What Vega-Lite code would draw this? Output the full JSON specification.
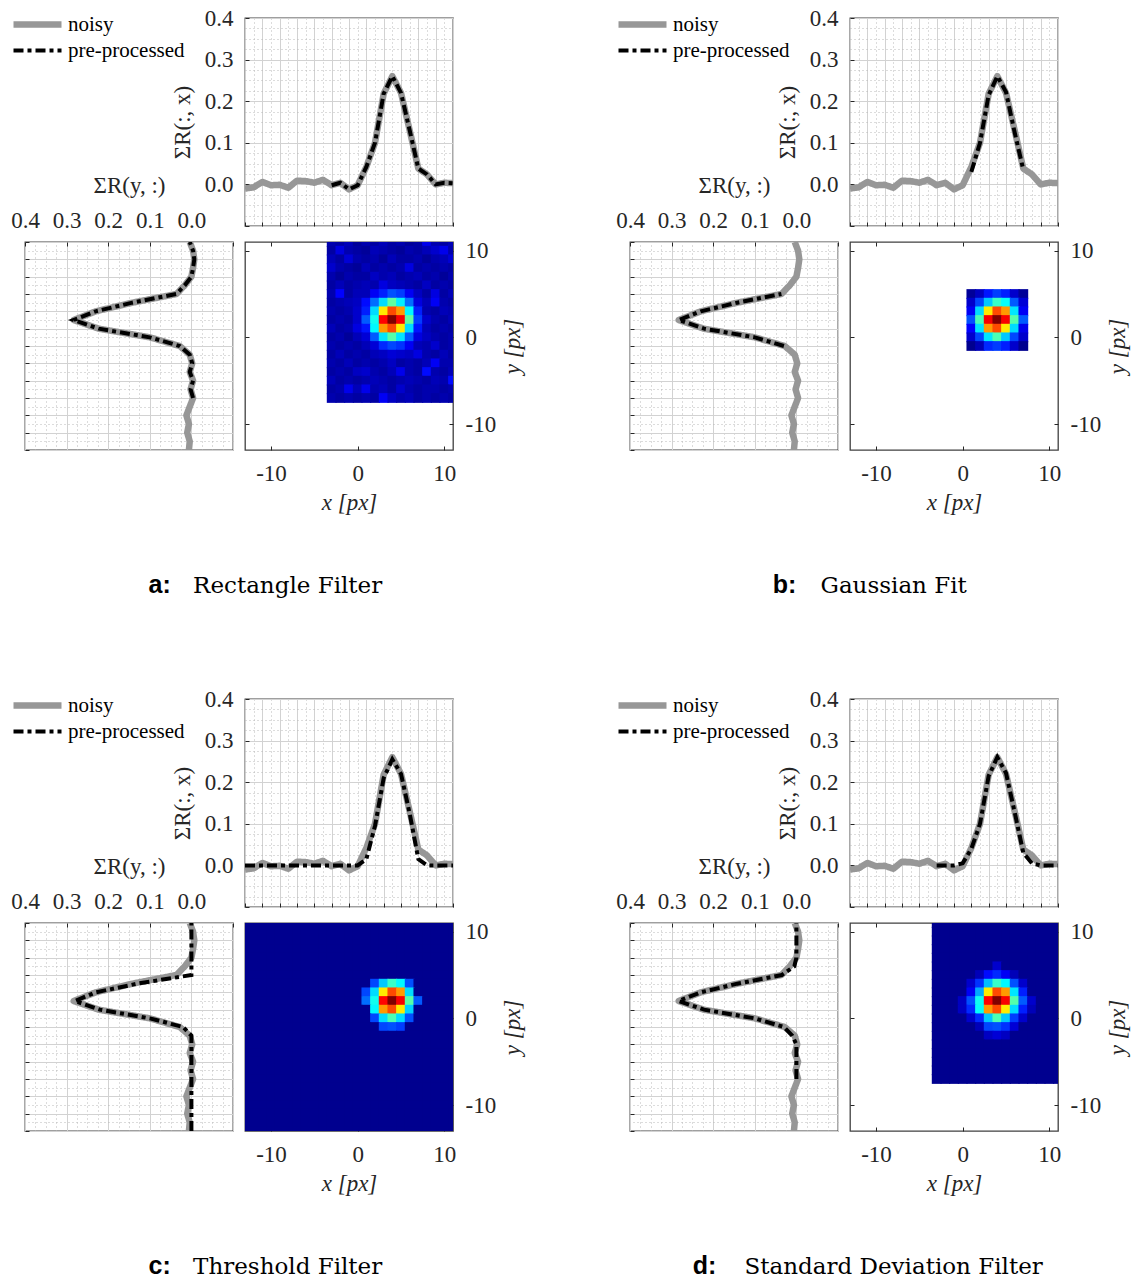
{
"$schema": "https://vega.github.io/schema/vega-lite/v6.json",
"background": "white",
"padding": {"left": 9, "top": 6, "right": 5, "bottom": 5},
"config": {
 "view": {"stroke": "#404040", "strokeWidth": 1.3},
 "axis": {"labelFont": "Liberation Serif", "labelFontSize": 23, "labelColor": "#262626", "titleFont": "Liberation Serif", "titleFontSize": 23, "titleFontWeight": "normal", "titleColor": "#262626", "domain": false, "tickColor": "#262626", "tickWidth": 1, "tickSize": -4, "labelFlush": false, "labelOverlap": false, "labelBound": false, "gridWidth": 1},
 "legend": {"orient": "none", "legendX": -230, "legendY": -4, "padding": 0, "labelFont": "Liberation Serif", "labelFontSize": 21, "labelColor": "#000000", "symbolSize": 576, "symbolOffset": 12, "labelOffset": 20, "rowPadding": 1}
},
"datasets": {
"L": [
{"k":"t","p":"n","s":"noisy","pos":-13,"val":-0.010},{"k":"t","p":"n","s":"noisy","pos":-12,"val":-0.007},{"k":"t","p":"n","s":"noisy","pos":-11,"val":0.006},{"k":"t","p":"n","s":"noisy","pos":-10,"val":-0.002},{"k":"t","p":"n","s":"noisy","pos":-9,"val":-0.001},{"k":"t","p":"n","s":"noisy","pos":-8,"val":-0.008},{"k":"t","p":"n","s":"noisy","pos":-7,"val":0.009},{"k":"t","p":"n","s":"noisy","pos":-6,"val":0.008},{"k":"t","p":"n","s":"noisy","pos":-5,"val":0.004},{"k":"t","p":"n","s":"noisy","pos":-4,"val":0.011},{"k":"t","p":"n","s":"noisy","pos":-3,"val":-0.002},{"k":"t","p":"n","s":"noisy","pos":-2,"val":0.004},{"k":"t","p":"n","s":"noisy","pos":-1,"val":-0.012},{"k":"t","p":"n","s":"noisy","pos":0,"val":-0.002},{"k":"t","p":"n","s":"noisy","pos":1,"val":0.042},{"k":"t","p":"n","s":"noisy","pos":2,"val":0.100},{"k":"t","p":"n","s":"noisy","pos":3,"val":0.218},{"k":"t","p":"n","s":"noisy","pos":4,"val":0.260},{"k":"t","p":"n","s":"noisy","pos":5,"val":0.220},{"k":"t","p":"n","s":"noisy","pos":6,"val":0.130},{"k":"t","p":"n","s":"noisy","pos":7,"val":0.038},{"k":"t","p":"n","s":"noisy","pos":8,"val":0.024},{"k":"t","p":"n","s":"noisy","pos":9,"val":0.000},{"k":"t","p":"n","s":"noisy","pos":10,"val":0.004},{"k":"t","p":"n","s":"noisy","pos":11,"val":0.003},
{"k":"t","p":"a","s":"pre-processed","pos":-3,"val":-0.002},{"k":"t","p":"a","s":"pre-processed","pos":-2,"val":0.004},{"k":"t","p":"a","s":"pre-processed","pos":-1,"val":-0.012},{"k":"t","p":"a","s":"pre-processed","pos":0,"val":-0.002},{"k":"t","p":"a","s":"pre-processed","pos":1,"val":0.042},{"k":"t","p":"a","s":"pre-processed","pos":2,"val":0.100},{"k":"t","p":"a","s":"pre-processed","pos":3,"val":0.218},{"k":"t","p":"a","s":"pre-processed","pos":4,"val":0.260},{"k":"t","p":"a","s":"pre-processed","pos":5,"val":0.220},{"k":"t","p":"a","s":"pre-processed","pos":6,"val":0.130},{"k":"t","p":"a","s":"pre-processed","pos":7,"val":0.038},{"k":"t","p":"a","s":"pre-processed","pos":8,"val":0.024},{"k":"t","p":"a","s":"pre-processed","pos":9,"val":0.000},{"k":"t","p":"a","s":"pre-processed","pos":10,"val":0.004},{"k":"t","p":"a","s":"pre-processed","pos":11,"val":0.003},
{"k":"t","p":"b","s":"pre-processed","pos":1,"val":0.030},{"k":"t","p":"b","s":"pre-processed","pos":2,"val":0.100},{"k":"t","p":"b","s":"pre-processed","pos":3,"val":0.215},{"k":"t","p":"b","s":"pre-processed","pos":4,"val":0.260},{"k":"t","p":"b","s":"pre-processed","pos":5,"val":0.222},{"k":"t","p":"b","s":"pre-processed","pos":6,"val":0.125},{"k":"t","p":"b","s":"pre-processed","pos":7,"val":0.035},
{"k":"t","p":"c","s":"pre-processed","pos":-13,"val":0},{"k":"t","p":"c","s":"pre-processed","pos":-12,"val":0},{"k":"t","p":"c","s":"pre-processed","pos":-11,"val":0},{"k":"t","p":"c","s":"pre-processed","pos":-10,"val":0},{"k":"t","p":"c","s":"pre-processed","pos":-9,"val":0},{"k":"t","p":"c","s":"pre-processed","pos":-8,"val":0},{"k":"t","p":"c","s":"pre-processed","pos":-7,"val":0},{"k":"t","p":"c","s":"pre-processed","pos":-6,"val":0},{"k":"t","p":"c","s":"pre-processed","pos":-5,"val":0},{"k":"t","p":"c","s":"pre-processed","pos":-4,"val":0},{"k":"t","p":"c","s":"pre-processed","pos":-3,"val":0},{"k":"t","p":"c","s":"pre-processed","pos":-2,"val":0},{"k":"t","p":"c","s":"pre-processed","pos":-1,"val":0},{"k":"t","p":"c","s":"pre-processed","pos":0,"val":0},{"k":"t","p":"c","s":"pre-processed","pos":1,"val":0.015},{"k":"t","p":"c","s":"pre-processed","pos":2,"val":0.095},{"k":"t","p":"c","s":"pre-processed","pos":3,"val":0.210},{"k":"t","p":"c","s":"pre-processed","pos":4,"val":0.255},{"k":"t","p":"c","s":"pre-processed","pos":5,"val":0.220},{"k":"t","p":"c","s":"pre-processed","pos":6,"val":0.125},{"k":"t","p":"c","s":"pre-processed","pos":7,"val":0.015},{"k":"t","p":"c","s":"pre-processed","pos":8,"val":0},{"k":"t","p":"c","s":"pre-processed","pos":9,"val":0},{"k":"t","p":"c","s":"pre-processed","pos":10,"val":0},{"k":"t","p":"c","s":"pre-processed","pos":11,"val":0},
{"k":"t","p":"d","s":"pre-processed","pos":-3,"val":0},{"k":"t","p":"d","s":"pre-processed","pos":-2,"val":0},{"k":"t","p":"d","s":"pre-processed","pos":-1,"val":0},{"k":"t","p":"d","s":"pre-processed","pos":0,"val":0.005},{"k":"t","p":"d","s":"pre-processed","pos":1,"val":0.040},{"k":"t","p":"d","s":"pre-processed","pos":2,"val":0.100},{"k":"t","p":"d","s":"pre-processed","pos":3,"val":0.215},{"k":"t","p":"d","s":"pre-processed","pos":4,"val":0.260},{"k":"t","p":"d","s":"pre-processed","pos":5,"val":0.222},{"k":"t","p":"d","s":"pre-processed","pos":6,"val":0.128},{"k":"t","p":"d","s":"pre-processed","pos":7,"val":0.030},{"k":"t","p":"d","s":"pre-processed","pos":8,"val":0.005},{"k":"t","p":"d","s":"pre-processed","pos":9,"val":0},{"k":"t","p":"d","s":"pre-processed","pos":10,"val":0},{"k":"t","p":"d","s":"pre-processed","pos":11,"val":0},
{"k":"l","p":"n","s":"noisy","pos":-13,"val":0.006},{"k":"l","p":"n","s":"noisy","pos":-12,"val":0.004},{"k":"l","p":"n","s":"noisy","pos":-11,"val":0.010},{"k":"l","p":"n","s":"noisy","pos":-10,"val":0.006},{"k":"l","p":"n","s":"noisy","pos":-9,"val":0.012},{"k":"l","p":"n","s":"noisy","pos":-8,"val":0.004},{"k":"l","p":"n","s":"noisy","pos":-7,"val":-0.004},{"k":"l","p":"n","s":"noisy","pos":-6,"val":0.002},{"k":"l","p":"n","s":"noisy","pos":-5,"val":-0.004},{"k":"l","p":"n","s":"noisy","pos":-4,"val":0.004},{"k":"l","p":"n","s":"noisy","pos":-3,"val":-0.002},{"k":"l","p":"n","s":"noisy","pos":-2,"val":0.004},{"k":"l","p":"n","s":"noisy","pos":-1,"val":0.028},{"k":"l","p":"n","s":"noisy","pos":0,"val":0.100},{"k":"l","p":"n","s":"noisy","pos":1,"val":0.223},{"k":"l","p":"n","s":"noisy","pos":2,"val":0.283},{"k":"l","p":"n","s":"noisy","pos":3,"val":0.230},{"k":"l","p":"n","s":"noisy","pos":4,"val":0.142},{"k":"l","p":"n","s":"noisy","pos":5,"val":0.036},{"k":"l","p":"n","s":"noisy","pos":6,"val":0.016},{"k":"l","p":"n","s":"noisy","pos":7,"val":0.000},{"k":"l","p":"n","s":"noisy","pos":8,"val":-0.004},{"k":"l","p":"n","s":"noisy","pos":9,"val":-0.007},{"k":"l","p":"n","s":"noisy","pos":10,"val":-0.004},{"k":"l","p":"n","s":"noisy","pos":11,"val":0.004},
{"k":"l","p":"a","s":"pre-processed","pos":-7,"val":-0.004},{"k":"l","p":"a","s":"pre-processed","pos":-6,"val":0.002},{"k":"l","p":"a","s":"pre-processed","pos":-5,"val":-0.004},{"k":"l","p":"a","s":"pre-processed","pos":-4,"val":0.004},{"k":"l","p":"a","s":"pre-processed","pos":-3,"val":-0.002},{"k":"l","p":"a","s":"pre-processed","pos":-2,"val":0.004},{"k":"l","p":"a","s":"pre-processed","pos":-1,"val":0.028},{"k":"l","p":"a","s":"pre-processed","pos":0,"val":0.100},{"k":"l","p":"a","s":"pre-processed","pos":1,"val":0.223},{"k":"l","p":"a","s":"pre-processed","pos":2,"val":0.283},{"k":"l","p":"a","s":"pre-processed","pos":3,"val":0.230},{"k":"l","p":"a","s":"pre-processed","pos":4,"val":0.142},{"k":"l","p":"a","s":"pre-processed","pos":5,"val":0.036},{"k":"l","p":"a","s":"pre-processed","pos":6,"val":0.016},{"k":"l","p":"a","s":"pre-processed","pos":7,"val":0.000},{"k":"l","p":"a","s":"pre-processed","pos":8,"val":-0.004},{"k":"l","p":"a","s":"pre-processed","pos":9,"val":-0.007},{"k":"l","p":"a","s":"pre-processed","pos":10,"val":-0.004},{"k":"l","p":"a","s":"pre-processed","pos":11,"val":0.004},
{"k":"l","p":"b","s":"pre-processed","pos":-1,"val":0.030},{"k":"l","p":"b","s":"pre-processed","pos":0,"val":0.100},{"k":"l","p":"b","s":"pre-processed","pos":1,"val":0.222},{"k":"l","p":"b","s":"pre-processed","pos":2,"val":0.283},{"k":"l","p":"b","s":"pre-processed","pos":3,"val":0.230},{"k":"l","p":"b","s":"pre-processed","pos":4,"val":0.142},{"k":"l","p":"b","s":"pre-processed","pos":5,"val":0.036},
{"k":"l","p":"c","s":"pre-processed","pos":-13,"val":0},{"k":"l","p":"c","s":"pre-processed","pos":-12,"val":0},{"k":"l","p":"c","s":"pre-processed","pos":-11,"val":0},{"k":"l","p":"c","s":"pre-processed","pos":-10,"val":0},{"k":"l","p":"c","s":"pre-processed","pos":-9,"val":0},{"k":"l","p":"c","s":"pre-processed","pos":-8,"val":0},{"k":"l","p":"c","s":"pre-processed","pos":-7,"val":0},{"k":"l","p":"c","s":"pre-processed","pos":-6,"val":0},{"k":"l","p":"c","s":"pre-processed","pos":-5,"val":0},{"k":"l","p":"c","s":"pre-processed","pos":-4,"val":0},{"k":"l","p":"c","s":"pre-processed","pos":-3,"val":0},{"k":"l","p":"c","s":"pre-processed","pos":-2,"val":0},{"k":"l","p":"c","s":"pre-processed","pos":-1,"val":0.020},{"k":"l","p":"c","s":"pre-processed","pos":0,"val":0.100},{"k":"l","p":"c","s":"pre-processed","pos":1,"val":0.220},{"k":"l","p":"c","s":"pre-processed","pos":2,"val":0.280},{"k":"l","p":"c","s":"pre-processed","pos":3,"val":0.230},{"k":"l","p":"c","s":"pre-processed","pos":4,"val":0.130},{"k":"l","p":"c","s":"pre-processed","pos":5,"val":0},{"k":"l","p":"c","s":"pre-processed","pos":6,"val":0},{"k":"l","p":"c","s":"pre-processed","pos":7,"val":0},{"k":"l","p":"c","s":"pre-processed","pos":8,"val":0},{"k":"l","p":"c","s":"pre-processed","pos":9,"val":0},{"k":"l","p":"c","s":"pre-processed","pos":10,"val":0},{"k":"l","p":"c","s":"pre-processed","pos":11,"val":0},
{"k":"l","p":"d","s":"pre-processed","pos":-7,"val":0},{"k":"l","p":"d","s":"pre-processed","pos":-6,"val":0},{"k":"l","p":"d","s":"pre-processed","pos":-5,"val":0},{"k":"l","p":"d","s":"pre-processed","pos":-4,"val":0},{"k":"l","p":"d","s":"pre-processed","pos":-3,"val":0},{"k":"l","p":"d","s":"pre-processed","pos":-2,"val":0.010},{"k":"l","p":"d","s":"pre-processed","pos":-1,"val":0.030},{"k":"l","p":"d","s":"pre-processed","pos":0,"val":0.100},{"k":"l","p":"d","s":"pre-processed","pos":1,"val":0.222},{"k":"l","p":"d","s":"pre-processed","pos":2,"val":0.283},{"k":"l","p":"d","s":"pre-processed","pos":3,"val":0.230},{"k":"l","p":"d","s":"pre-processed","pos":4,"val":0.142},{"k":"l","p":"d","s":"pre-processed","pos":5,"val":0.035},{"k":"l","p":"d","s":"pre-processed","pos":6,"val":0.005},{"k":"l","p":"d","s":"pre-processed","pos":7,"val":0},{"k":"l","p":"d","s":"pre-processed","pos":8,"val":0},{"k":"l","p":"d","s":"pre-processed","pos":9,"val":0},{"k":"l","p":"d","s":"pre-processed","pos":10,"val":0},{"k":"l","p":"d","s":"pre-processed","pos":11,"val":0}
],
"ha": [
{"x":-3,"y":11,"v":3},{"x":-2,"y":11,"v":2},{"x":-1,"y":11,"v":4},{"x":0,"y":11,"v":1},{"x":1,"y":11,"v":3},{"x":2,"y":11,"v":2},{"x":3,"y":11,"v":4},{"x":4,"y":11,"v":2},{"x":5,"y":11,"v":3},{"x":6,"y":11,"v":1},{"x":7,"y":11,"v":2},{"x":8,"y":11,"v":9},{"x":9,"y":11,"v":3},{"x":10,"y":11,"v":2},{"x":11,"y":11,"v":4},
{"x":-3,"y":10,"v":2},{"x":-2,"y":10,"v":8},{"x":-1,"y":10,"v":3},{"x":0,"y":10,"v":2},{"x":1,"y":10,"v":1},{"x":2,"y":10,"v":4},{"x":3,"y":10,"v":3},{"x":4,"y":10,"v":2},{"x":5,"y":10,"v":1},{"x":6,"y":10,"v":3},{"x":7,"y":10,"v":2},{"x":8,"y":10,"v":4},{"x":9,"y":10,"v":6},{"x":10,"y":10,"v":9},{"x":11,"y":10,"v":3},
{"x":-3,"y":9,"v":4},{"x":-2,"y":9,"v":2},{"x":-1,"y":9,"v":7},{"x":0,"y":9,"v":3},{"x":1,"y":9,"v":2},{"x":2,"y":9,"v":3},{"x":3,"y":9,"v":1},{"x":4,"y":9,"v":4},{"x":5,"y":9,"v":2},{"x":6,"y":9,"v":2},{"x":7,"y":9,"v":3},{"x":8,"y":9,"v":1},{"x":9,"y":9,"v":3},{"x":10,"y":9,"v":4},{"x":11,"y":9,"v":7},
{"x":-3,"y":8,"v":6},{"x":-2,"y":8,"v":3},{"x":-1,"y":8,"v":2},{"x":0,"y":8,"v":1},{"x":1,"y":8,"v":4},{"x":2,"y":8,"v":2},{"x":3,"y":8,"v":3},{"x":4,"y":8,"v":2},{"x":5,"y":8,"v":3},{"x":6,"y":8,"v":8},{"x":7,"y":8,"v":2},{"x":8,"y":8,"v":3},{"x":9,"y":8,"v":2},{"x":10,"y":8,"v":3},{"x":11,"y":8,"v":2},
{"x":-3,"y":7,"v":3},{"x":-2,"y":7,"v":1},{"x":-1,"y":7,"v":3},{"x":0,"y":7,"v":2},{"x":1,"y":7,"v":2},{"x":2,"y":7,"v":5},{"x":3,"y":7,"v":3},{"x":4,"y":7,"v":4},{"x":5,"y":7,"v":2},{"x":6,"y":7,"v":3},{"x":7,"y":7,"v":4},{"x":8,"y":7,"v":2},{"x":9,"y":7,"v":3},{"x":10,"y":7,"v":1},{"x":11,"y":7,"v":3},
{"x":-3,"y":6,"v":2},{"x":-2,"y":6,"v":4},{"x":-1,"y":6,"v":2},{"x":0,"y":6,"v":3},{"x":1,"y":6,"v":4},{"x":2,"y":6,"v":3},{"x":3,"y":6,"v":8},{"x":4,"y":6,"v":5},{"x":5,"y":6,"v":4},{"x":6,"y":6,"v":3},{"x":7,"y":6,"v":2},{"x":8,"y":6,"v":5},{"x":9,"y":6,"v":2},{"x":10,"y":6,"v":3},{"x":11,"y":6,"v":2},
{"x":-3,"y":5,"v":3},{"x":-2,"y":5,"v":11},{"x":-1,"y":5,"v":2},{"x":0,"y":5,"v":4},{"x":1,"y":5,"v":4},{"x":2,"y":5,"v":10},{"x":3,"y":5,"v":14},{"x":4,"y":5,"v":19},{"x":5,"y":5,"v":17},{"x":6,"y":5,"v":10},{"x":7,"y":5,"v":5},{"x":8,"y":5,"v":2},{"x":9,"y":5,"v":8},{"x":10,"y":5,"v":2},{"x":11,"y":5,"v":4},
{"x":-3,"y":4,"v":2},{"x":-2,"y":4,"v":3},{"x":-1,"y":4,"v":4},{"x":0,"y":4,"v":5},{"x":1,"y":4,"v":12},{"x":2,"y":4,"v":22},{"x":3,"y":4,"v":33},{"x":4,"y":4,"v":46},{"x":5,"y":4,"v":35},{"x":6,"y":4,"v":22},{"x":7,"y":4,"v":8},{"x":8,"y":4,"v":4},{"x":9,"y":4,"v":10},{"x":10,"y":4,"v":3},{"x":11,"y":4,"v":2},
{"x":-3,"y":3,"v":3},{"x":-2,"y":3,"v":2},{"x":-1,"y":3,"v":3},{"x":0,"y":3,"v":6},{"x":1,"y":3,"v":14},{"x":2,"y":3,"v":33},{"x":3,"y":3,"v":64},{"x":4,"y":3,"v":80},{"x":5,"y":3,"v":72},{"x":6,"y":3,"v":36},{"x":7,"y":3,"v":14},{"x":8,"y":3,"v":3},{"x":9,"y":3,"v":2},{"x":10,"y":3,"v":4},{"x":11,"y":3,"v":3},
{"x":-3,"y":2,"v":2},{"x":-2,"y":2,"v":3},{"x":-1,"y":2,"v":2},{"x":0,"y":2,"v":6},{"x":1,"y":2,"v":20},{"x":2,"y":2,"v":38},{"x":3,"y":2,"v":87},{"x":4,"y":2,"v":100},{"x":5,"y":2,"v":88},{"x":6,"y":2,"v":46},{"x":7,"y":2,"v":17},{"x":8,"y":2,"v":6},{"x":9,"y":2,"v":3},{"x":10,"y":2,"v":2},{"x":11,"y":2,"v":4},
{"x":-3,"y":1,"v":4},{"x":-2,"y":1,"v":2},{"x":-1,"y":1,"v":3},{"x":0,"y":1,"v":8},{"x":1,"y":1,"v":13},{"x":2,"y":1,"v":36},{"x":3,"y":1,"v":72},{"x":4,"y":1,"v":80},{"x":5,"y":1,"v":64},{"x":6,"y":1,"v":33},{"x":7,"y":1,"v":13},{"x":8,"y":1,"v":4},{"x":9,"y":1,"v":2},{"x":10,"y":1,"v":3},{"x":11,"y":1,"v":2},
{"x":-3,"y":0,"v":2},{"x":-2,"y":0,"v":3},{"x":-1,"y":0,"v":1},{"x":0,"y":0,"v":4},{"x":1,"y":0,"v":7},{"x":2,"y":0,"v":20},{"x":3,"y":0,"v":34},{"x":4,"y":0,"v":45},{"x":5,"y":0,"v":34},{"x":6,"y":0,"v":20},{"x":7,"y":0,"v":8},{"x":8,"y":0,"v":5},{"x":9,"y":0,"v":3},{"x":10,"y":0,"v":2},{"x":11,"y":0,"v":3},
{"x":-3,"y":-1,"v":3},{"x":-2,"y":-1,"v":2},{"x":-1,"y":-1,"v":3},{"x":0,"y":-1,"v":2},{"x":1,"y":-1,"v":4},{"x":2,"y":-1,"v":7},{"x":3,"y":-1,"v":15},{"x":4,"y":-1,"v":18},{"x":5,"y":-1,"v":16},{"x":6,"y":-1,"v":10},{"x":7,"y":-1,"v":4},{"x":8,"y":-1,"v":3},{"x":9,"y":-1,"v":6},{"x":10,"y":-1,"v":2},{"x":11,"y":-1,"v":3},
{"x":-3,"y":-2,"v":2},{"x":-2,"y":-2,"v":4},{"x":-1,"y":-2,"v":2},{"x":0,"y":-2,"v":3},{"x":1,"y":-2,"v":2},{"x":2,"y":-2,"v":4},{"x":3,"y":-2,"v":5},{"x":4,"y":-2,"v":7},{"x":5,"y":-2,"v":6},{"x":6,"y":-2,"v":5},{"x":7,"y":-2,"v":8},{"x":8,"y":-2,"v":3},{"x":9,"y":-2,"v":2},{"x":10,"y":-2,"v":4},{"x":11,"y":-2,"v":2},
{"x":-3,"y":-3,"v":3},{"x":-2,"y":-3,"v":2},{"x":-1,"y":-3,"v":4},{"x":0,"y":-3,"v":2},{"x":1,"y":-3,"v":3},{"x":2,"y":-3,"v":2},{"x":3,"y":-3,"v":3},{"x":4,"y":-3,"v":5},{"x":5,"y":-3,"v":2},{"x":6,"y":-3,"v":3},{"x":7,"y":-3,"v":2},{"x":8,"y":-3,"v":4},{"x":9,"y":-3,"v":10},{"x":10,"y":-3,"v":3},{"x":11,"y":-3,"v":3},
{"x":-3,"y":-4,"v":2},{"x":-2,"y":-4,"v":3},{"x":-1,"y":-4,"v":2},{"x":0,"y":-4,"v":5},{"x":1,"y":-4,"v":6},{"x":2,"y":-4,"v":3},{"x":3,"y":-4,"v":2},{"x":4,"y":-4,"v":4},{"x":5,"y":-4,"v":9},{"x":6,"y":-4,"v":3},{"x":7,"y":-4,"v":2},{"x":8,"y":-4,"v":12},{"x":9,"y":-4,"v":3},{"x":10,"y":-4,"v":2},{"x":11,"y":-4,"v":4},
{"x":-3,"y":-5,"v":4},{"x":-2,"y":-5,"v":2},{"x":-1,"y":-5,"v":3},{"x":0,"y":-5,"v":2},{"x":1,"y":-5,"v":3},{"x":2,"y":-5,"v":4},{"x":3,"y":-5,"v":3},{"x":4,"y":-5,"v":2},{"x":5,"y":-5,"v":3},{"x":6,"y":-5,"v":4},{"x":7,"y":-5,"v":3},{"x":8,"y":-5,"v":2},{"x":9,"y":-5,"v":4},{"x":10,"y":-5,"v":3},{"x":11,"y":-5,"v":12},
{"x":-3,"y":-6,"v":2},{"x":-2,"y":-6,"v":3},{"x":-1,"y":-6,"v":9},{"x":0,"y":-6,"v":4},{"x":1,"y":-6,"v":9},{"x":2,"y":-6,"v":3},{"x":3,"y":-6,"v":4},{"x":4,"y":-6,"v":2},{"x":5,"y":-6,"v":6},{"x":6,"y":-6,"v":3},{"x":7,"y":-6,"v":2},{"x":8,"y":-6,"v":3},{"x":9,"y":-6,"v":3},{"x":10,"y":-6,"v":2},{"x":11,"y":-6,"v":3},
{"x":-3,"y":-7,"v":3},{"x":-2,"y":-7,"v":2},{"x":-1,"y":-7,"v":3},{"x":0,"y":-7,"v":2},{"x":1,"y":-7,"v":3},{"x":2,"y":-7,"v":2},{"x":3,"y":-7,"v":10},{"x":4,"y":-7,"v":5},{"x":5,"y":-7,"v":3},{"x":6,"y":-7,"v":4},{"x":7,"y":-7,"v":2},{"x":8,"y":-7,"v":3},{"x":9,"y":-7,"v":2},{"x":10,"y":-7,"v":3},{"x":11,"y":-7,"v":2}
],
"hb": [
{"x":1,"y":5,"v":1},{"x":2,"y":5,"v":5},{"x":3,"y":5,"v":13},{"x":4,"y":5,"v":17},{"x":5,"y":5,"v":14},{"x":6,"y":5,"v":6},{"x":7,"y":5,"v":1},
{"x":1,"y":4,"v":6},{"x":2,"y":4,"v":18},{"x":3,"y":4,"v":31},{"x":4,"y":4,"v":42},{"x":5,"y":4,"v":37},{"x":6,"y":4,"v":20},{"x":7,"y":4,"v":7},
{"x":1,"y":3,"v":10},{"x":2,"y":3,"v":33},{"x":3,"y":3,"v":64},{"x":4,"y":3,"v":80},{"x":5,"y":3,"v":72},{"x":6,"y":3,"v":34},{"x":7,"y":3,"v":10},
{"x":1,"y":2,"v":19},{"x":2,"y":2,"v":44},{"x":3,"y":2,"v":88},{"x":4,"y":2,"v":100},{"x":5,"y":2,"v":88},{"x":6,"y":2,"v":45},{"x":7,"y":2,"v":20},
{"x":1,"y":1,"v":11},{"x":2,"y":1,"v":34},{"x":3,"y":1,"v":72},{"x":4,"y":1,"v":80},{"x":5,"y":1,"v":64},{"x":6,"y":1,"v":33},{"x":7,"y":1,"v":9},
{"x":1,"y":0,"v":6},{"x":2,"y":0,"v":18},{"x":3,"y":0,"v":34},{"x":4,"y":0,"v":44},{"x":5,"y":0,"v":31},{"x":6,"y":0,"v":18},{"x":7,"y":0,"v":6},
{"x":1,"y":-1,"v":0},{"x":2,"y":-1,"v":4},{"x":3,"y":-1,"v":15},{"x":4,"y":-1,"v":17},{"x":5,"y":-1,"v":14},{"x":6,"y":-1,"v":6},{"x":7,"y":-1,"v":0}
],
"hc": [
{"x":-13,"y":11,"v":0},{"x":-12,"y":11,"v":0},{"x":-11,"y":11,"v":0},{"x":-10,"y":11,"v":0},{"x":-9,"y":11,"v":0},{"x":-8,"y":11,"v":0},{"x":-7,"y":11,"v":0},{"x":-6,"y":11,"v":0},{"x":-5,"y":11,"v":0},{"x":-4,"y":11,"v":0},{"x":-3,"y":11,"v":0},{"x":-2,"y":11,"v":0},{"x":-1,"y":11,"v":0},{"x":0,"y":11,"v":0},{"x":1,"y":11,"v":0},{"x":2,"y":11,"v":0},{"x":3,"y":11,"v":0},{"x":4,"y":11,"v":0},{"x":5,"y":11,"v":0},{"x":6,"y":11,"v":0},{"x":7,"y":11,"v":0},{"x":8,"y":11,"v":0},{"x":9,"y":11,"v":0},{"x":10,"y":11,"v":0},{"x":11,"y":11,"v":0},
{"x":-13,"y":10,"v":0},{"x":-12,"y":10,"v":0},{"x":-11,"y":10,"v":0},{"x":-10,"y":10,"v":0},{"x":-9,"y":10,"v":0},{"x":-8,"y":10,"v":0},{"x":-7,"y":10,"v":0},{"x":-6,"y":10,"v":0},{"x":-5,"y":10,"v":0},{"x":-4,"y":10,"v":0},{"x":-3,"y":10,"v":0},{"x":-2,"y":10,"v":0},{"x":-1,"y":10,"v":0},{"x":0,"y":10,"v":0},{"x":1,"y":10,"v":0},{"x":2,"y":10,"v":0},{"x":3,"y":10,"v":0},{"x":4,"y":10,"v":0},{"x":5,"y":10,"v":0},{"x":6,"y":10,"v":0},{"x":7,"y":10,"v":0},{"x":8,"y":10,"v":0},{"x":9,"y":10,"v":0},{"x":10,"y":10,"v":0},{"x":11,"y":10,"v":0},
{"x":-13,"y":9,"v":0},{"x":-12,"y":9,"v":0},{"x":-11,"y":9,"v":0},{"x":-10,"y":9,"v":0},{"x":-9,"y":9,"v":0},{"x":-8,"y":9,"v":0},{"x":-7,"y":9,"v":0},{"x":-6,"y":9,"v":0},{"x":-5,"y":9,"v":0},{"x":-4,"y":9,"v":0},{"x":-3,"y":9,"v":0},{"x":-2,"y":9,"v":0},{"x":-1,"y":9,"v":0},{"x":0,"y":9,"v":0},{"x":1,"y":9,"v":0},{"x":2,"y":9,"v":0},{"x":3,"y":9,"v":0},{"x":4,"y":9,"v":0},{"x":5,"y":9,"v":0},{"x":6,"y":9,"v":0},{"x":7,"y":9,"v":0},{"x":8,"y":9,"v":0},{"x":9,"y":9,"v":0},{"x":10,"y":9,"v":0},{"x":11,"y":9,"v":0},
{"x":-13,"y":8,"v":0},{"x":-12,"y":8,"v":0},{"x":-11,"y":8,"v":0},{"x":-10,"y":8,"v":0},{"x":-9,"y":8,"v":0},{"x":-8,"y":8,"v":0},{"x":-7,"y":8,"v":0},{"x":-6,"y":8,"v":0},{"x":-5,"y":8,"v":0},{"x":-4,"y":8,"v":0},{"x":-3,"y":8,"v":0},{"x":-2,"y":8,"v":0},{"x":-1,"y":8,"v":0},{"x":0,"y":8,"v":0},{"x":1,"y":8,"v":0},{"x":2,"y":8,"v":0},{"x":3,"y":8,"v":0},{"x":4,"y":8,"v":0},{"x":5,"y":8,"v":0},{"x":6,"y":8,"v":0},{"x":7,"y":8,"v":0},{"x":8,"y":8,"v":0},{"x":9,"y":8,"v":0},{"x":10,"y":8,"v":0},{"x":11,"y":8,"v":0},
{"x":-13,"y":7,"v":0},{"x":-12,"y":7,"v":0},{"x":-11,"y":7,"v":0},{"x":-10,"y":7,"v":0},{"x":-9,"y":7,"v":0},{"x":-8,"y":7,"v":0},{"x":-7,"y":7,"v":0},{"x":-6,"y":7,"v":0},{"x":-5,"y":7,"v":0},{"x":-4,"y":7,"v":0},{"x":-3,"y":7,"v":0},{"x":-2,"y":7,"v":0},{"x":-1,"y":7,"v":0},{"x":0,"y":7,"v":0},{"x":1,"y":7,"v":0},{"x":2,"y":7,"v":0},{"x":3,"y":7,"v":0},{"x":4,"y":7,"v":0},{"x":5,"y":7,"v":0},{"x":6,"y":7,"v":0},{"x":7,"y":7,"v":0},{"x":8,"y":7,"v":0},{"x":9,"y":7,"v":0},{"x":10,"y":7,"v":0},{"x":11,"y":7,"v":0},
{"x":-13,"y":6,"v":0},{"x":-12,"y":6,"v":0},{"x":-11,"y":6,"v":0},{"x":-10,"y":6,"v":0},{"x":-9,"y":6,"v":0},{"x":-8,"y":6,"v":0},{"x":-7,"y":6,"v":0},{"x":-6,"y":6,"v":0},{"x":-5,"y":6,"v":0},{"x":-4,"y":6,"v":0},{"x":-3,"y":6,"v":0},{"x":-2,"y":6,"v":0},{"x":-1,"y":6,"v":0},{"x":0,"y":6,"v":0},{"x":1,"y":6,"v":0},{"x":2,"y":6,"v":0},{"x":3,"y":6,"v":0},{"x":4,"y":6,"v":0},{"x":5,"y":6,"v":0},{"x":6,"y":6,"v":0},{"x":7,"y":6,"v":0},{"x":8,"y":6,"v":0},{"x":9,"y":6,"v":0},{"x":10,"y":6,"v":0},{"x":11,"y":6,"v":0},
{"x":-13,"y":5,"v":0},{"x":-12,"y":5,"v":0},{"x":-11,"y":5,"v":0},{"x":-10,"y":5,"v":0},{"x":-9,"y":5,"v":0},{"x":-8,"y":5,"v":0},{"x":-7,"y":5,"v":0},{"x":-6,"y":5,"v":0},{"x":-5,"y":5,"v":0},{"x":-4,"y":5,"v":0},{"x":-3,"y":5,"v":0},{"x":-2,"y":5,"v":0},{"x":-1,"y":5,"v":0},{"x":0,"y":5,"v":0},{"x":1,"y":5,"v":0},{"x":2,"y":5,"v":0},{"x":3,"y":5,"v":0},{"x":4,"y":5,"v":0},{"x":5,"y":5,"v":0},{"x":6,"y":5,"v":0},{"x":7,"y":5,"v":0},{"x":8,"y":5,"v":0},{"x":9,"y":5,"v":0},{"x":10,"y":5,"v":0},{"x":11,"y":5,"v":0},
{"x":-13,"y":4,"v":0},{"x":-12,"y":4,"v":0},{"x":-11,"y":4,"v":0},{"x":-10,"y":4,"v":0},{"x":-9,"y":4,"v":0},{"x":-8,"y":4,"v":0},{"x":-7,"y":4,"v":0},{"x":-6,"y":4,"v":0},{"x":-5,"y":4,"v":0},{"x":-4,"y":4,"v":0},{"x":-3,"y":4,"v":0},{"x":-2,"y":4,"v":0},{"x":-1,"y":4,"v":0},{"x":0,"y":4,"v":0},{"x":1,"y":4,"v":0},{"x":2,"y":4,"v":18},{"x":3,"y":4,"v":31},{"x":4,"y":4,"v":42},{"x":5,"y":4,"v":36},{"x":6,"y":4,"v":19},{"x":7,"y":4,"v":0},{"x":8,"y":4,"v":0},{"x":9,"y":4,"v":0},{"x":10,"y":4,"v":0},{"x":11,"y":4,"v":0},
{"x":-13,"y":3,"v":0},{"x":-12,"y":3,"v":0},{"x":-11,"y":3,"v":0},{"x":-10,"y":3,"v":0},{"x":-9,"y":3,"v":0},{"x":-8,"y":3,"v":0},{"x":-7,"y":3,"v":0},{"x":-6,"y":3,"v":0},{"x":-5,"y":3,"v":0},{"x":-4,"y":3,"v":0},{"x":-3,"y":3,"v":0},{"x":-2,"y":3,"v":0},{"x":-1,"y":3,"v":0},{"x":0,"y":3,"v":0},{"x":1,"y":3,"v":18},{"x":2,"y":3,"v":33},{"x":3,"y":3,"v":64},{"x":4,"y":3,"v":80},{"x":5,"y":3,"v":72},{"x":6,"y":3,"v":33},{"x":7,"y":3,"v":0},{"x":8,"y":3,"v":0},{"x":9,"y":3,"v":0},{"x":10,"y":3,"v":0},{"x":11,"y":3,"v":0},
{"x":-13,"y":2,"v":0},{"x":-12,"y":2,"v":0},{"x":-11,"y":2,"v":0},{"x":-10,"y":2,"v":0},{"x":-9,"y":2,"v":0},{"x":-8,"y":2,"v":0},{"x":-7,"y":2,"v":0},{"x":-6,"y":2,"v":0},{"x":-5,"y":2,"v":0},{"x":-4,"y":2,"v":0},{"x":-3,"y":2,"v":0},{"x":-2,"y":2,"v":0},{"x":-1,"y":2,"v":0},{"x":0,"y":2,"v":0},{"x":1,"y":2,"v":22},{"x":2,"y":2,"v":38},{"x":3,"y":2,"v":87},{"x":4,"y":2,"v":100},{"x":5,"y":2,"v":88},{"x":6,"y":2,"v":45},{"x":7,"y":2,"v":20},{"x":8,"y":2,"v":0},{"x":9,"y":2,"v":0},{"x":10,"y":2,"v":0},{"x":11,"y":2,"v":0},
{"x":-13,"y":1,"v":0},{"x":-12,"y":1,"v":0},{"x":-11,"y":1,"v":0},{"x":-10,"y":1,"v":0},{"x":-9,"y":1,"v":0},{"x":-8,"y":1,"v":0},{"x":-7,"y":1,"v":0},{"x":-6,"y":1,"v":0},{"x":-5,"y":1,"v":0},{"x":-4,"y":1,"v":0},{"x":-3,"y":1,"v":0},{"x":-2,"y":1,"v":0},{"x":-1,"y":1,"v":0},{"x":0,"y":1,"v":0},{"x":1,"y":1,"v":0},{"x":2,"y":1,"v":36},{"x":3,"y":1,"v":72},{"x":4,"y":1,"v":80},{"x":5,"y":1,"v":64},{"x":6,"y":1,"v":32},{"x":7,"y":1,"v":0},{"x":8,"y":1,"v":0},{"x":9,"y":1,"v":0},{"x":10,"y":1,"v":0},{"x":11,"y":1,"v":0},
{"x":-13,"y":0,"v":0},{"x":-12,"y":0,"v":0},{"x":-11,"y":0,"v":0},{"x":-10,"y":0,"v":0},{"x":-9,"y":0,"v":0},{"x":-8,"y":0,"v":0},{"x":-7,"y":0,"v":0},{"x":-6,"y":0,"v":0},{"x":-5,"y":0,"v":0},{"x":-4,"y":0,"v":0},{"x":-3,"y":0,"v":0},{"x":-2,"y":0,"v":0},{"x":-1,"y":0,"v":0},{"x":0,"y":0,"v":0},{"x":1,"y":0,"v":0},{"x":2,"y":0,"v":18},{"x":3,"y":0,"v":33},{"x":4,"y":0,"v":44},{"x":5,"y":0,"v":33},{"x":6,"y":0,"v":19},{"x":7,"y":0,"v":0},{"x":8,"y":0,"v":0},{"x":9,"y":0,"v":0},{"x":10,"y":0,"v":0},{"x":11,"y":0,"v":0},
{"x":-13,"y":-1,"v":0},{"x":-12,"y":-1,"v":0},{"x":-11,"y":-1,"v":0},{"x":-10,"y":-1,"v":0},{"x":-9,"y":-1,"v":0},{"x":-8,"y":-1,"v":0},{"x":-7,"y":-1,"v":0},{"x":-6,"y":-1,"v":0},{"x":-5,"y":-1,"v":0},{"x":-4,"y":-1,"v":0},{"x":-3,"y":-1,"v":0},{"x":-2,"y":-1,"v":0},{"x":-1,"y":-1,"v":0},{"x":0,"y":-1,"v":0},{"x":1,"y":-1,"v":0},{"x":2,"y":-1,"v":0},{"x":3,"y":-1,"v":18},{"x":4,"y":-1,"v":19},{"x":5,"y":-1,"v":17},{"x":6,"y":-1,"v":0},{"x":7,"y":-1,"v":0},{"x":8,"y":-1,"v":0},{"x":9,"y":-1,"v":0},{"x":10,"y":-1,"v":0},{"x":11,"y":-1,"v":0},
{"x":-13,"y":-2,"v":0},{"x":-12,"y":-2,"v":0},{"x":-11,"y":-2,"v":0},{"x":-10,"y":-2,"v":0},{"x":-9,"y":-2,"v":0},{"x":-8,"y":-2,"v":0},{"x":-7,"y":-2,"v":0},{"x":-6,"y":-2,"v":0},{"x":-5,"y":-2,"v":0},{"x":-4,"y":-2,"v":0},{"x":-3,"y":-2,"v":0},{"x":-2,"y":-2,"v":0},{"x":-1,"y":-2,"v":0},{"x":0,"y":-2,"v":0},{"x":1,"y":-2,"v":0},{"x":2,"y":-2,"v":0},{"x":3,"y":-2,"v":0},{"x":4,"y":-2,"v":0},{"x":5,"y":-2,"v":0},{"x":6,"y":-2,"v":0},{"x":7,"y":-2,"v":0},{"x":8,"y":-2,"v":0},{"x":9,"y":-2,"v":0},{"x":10,"y":-2,"v":0},{"x":11,"y":-2,"v":0},
{"x":-13,"y":-3,"v":0},{"x":-12,"y":-3,"v":0},{"x":-11,"y":-3,"v":0},{"x":-10,"y":-3,"v":0},{"x":-9,"y":-3,"v":0},{"x":-8,"y":-3,"v":0},{"x":-7,"y":-3,"v":0},{"x":-6,"y":-3,"v":0},{"x":-5,"y":-3,"v":0},{"x":-4,"y":-3,"v":0},{"x":-3,"y":-3,"v":0},{"x":-2,"y":-3,"v":0},{"x":-1,"y":-3,"v":0},{"x":0,"y":-3,"v":0},{"x":1,"y":-3,"v":0},{"x":2,"y":-3,"v":0},{"x":3,"y":-3,"v":0},{"x":4,"y":-3,"v":0},{"x":5,"y":-3,"v":0},{"x":6,"y":-3,"v":0},{"x":7,"y":-3,"v":0},{"x":8,"y":-3,"v":0},{"x":9,"y":-3,"v":0},{"x":10,"y":-3,"v":0},{"x":11,"y":-3,"v":0},
{"x":-13,"y":-4,"v":0},{"x":-12,"y":-4,"v":0},{"x":-11,"y":-4,"v":0},{"x":-10,"y":-4,"v":0},{"x":-9,"y":-4,"v":0},{"x":-8,"y":-4,"v":0},{"x":-7,"y":-4,"v":0},{"x":-6,"y":-4,"v":0},{"x":-5,"y":-4,"v":0},{"x":-4,"y":-4,"v":0},{"x":-3,"y":-4,"v":0},{"x":-2,"y":-4,"v":0},{"x":-1,"y":-4,"v":0},{"x":0,"y":-4,"v":0},{"x":1,"y":-4,"v":0},{"x":2,"y":-4,"v":0},{"x":3,"y":-4,"v":0},{"x":4,"y":-4,"v":0},{"x":5,"y":-4,"v":0},{"x":6,"y":-4,"v":0},{"x":7,"y":-4,"v":0},{"x":8,"y":-4,"v":0},{"x":9,"y":-4,"v":0},{"x":10,"y":-4,"v":0},{"x":11,"y":-4,"v":0},
{"x":-13,"y":-5,"v":0},{"x":-12,"y":-5,"v":0},{"x":-11,"y":-5,"v":0},{"x":-10,"y":-5,"v":0},{"x":-9,"y":-5,"v":0},{"x":-8,"y":-5,"v":0},{"x":-7,"y":-5,"v":0},{"x":-6,"y":-5,"v":0},{"x":-5,"y":-5,"v":0},{"x":-4,"y":-5,"v":0},{"x":-3,"y":-5,"v":0},{"x":-2,"y":-5,"v":0},{"x":-1,"y":-5,"v":0},{"x":0,"y":-5,"v":0},{"x":1,"y":-5,"v":0},{"x":2,"y":-5,"v":0},{"x":3,"y":-5,"v":0},{"x":4,"y":-5,"v":0},{"x":5,"y":-5,"v":0},{"x":6,"y":-5,"v":0},{"x":7,"y":-5,"v":0},{"x":8,"y":-5,"v":0},{"x":9,"y":-5,"v":0},{"x":10,"y":-5,"v":0},{"x":11,"y":-5,"v":0},
{"x":-13,"y":-6,"v":0},{"x":-12,"y":-6,"v":0},{"x":-11,"y":-6,"v":0},{"x":-10,"y":-6,"v":0},{"x":-9,"y":-6,"v":0},{"x":-8,"y":-6,"v":0},{"x":-7,"y":-6,"v":0},{"x":-6,"y":-6,"v":0},{"x":-5,"y":-6,"v":0},{"x":-4,"y":-6,"v":0},{"x":-3,"y":-6,"v":0},{"x":-2,"y":-6,"v":0},{"x":-1,"y":-6,"v":0},{"x":0,"y":-6,"v":0},{"x":1,"y":-6,"v":0},{"x":2,"y":-6,"v":0},{"x":3,"y":-6,"v":0},{"x":4,"y":-6,"v":0},{"x":5,"y":-6,"v":0},{"x":6,"y":-6,"v":0},{"x":7,"y":-6,"v":0},{"x":8,"y":-6,"v":0},{"x":9,"y":-6,"v":0},{"x":10,"y":-6,"v":0},{"x":11,"y":-6,"v":0},
{"x":-13,"y":-7,"v":0},{"x":-12,"y":-7,"v":0},{"x":-11,"y":-7,"v":0},{"x":-10,"y":-7,"v":0},{"x":-9,"y":-7,"v":0},{"x":-8,"y":-7,"v":0},{"x":-7,"y":-7,"v":0},{"x":-6,"y":-7,"v":0},{"x":-5,"y":-7,"v":0},{"x":-4,"y":-7,"v":0},{"x":-3,"y":-7,"v":0},{"x":-2,"y":-7,"v":0},{"x":-1,"y":-7,"v":0},{"x":0,"y":-7,"v":0},{"x":1,"y":-7,"v":0},{"x":2,"y":-7,"v":0},{"x":3,"y":-7,"v":0},{"x":4,"y":-7,"v":0},{"x":5,"y":-7,"v":0},{"x":6,"y":-7,"v":0},{"x":7,"y":-7,"v":0},{"x":8,"y":-7,"v":0},{"x":9,"y":-7,"v":0},{"x":10,"y":-7,"v":0},{"x":11,"y":-7,"v":0},
{"x":-13,"y":-8,"v":0},{"x":-12,"y":-8,"v":0},{"x":-11,"y":-8,"v":0},{"x":-10,"y":-8,"v":0},{"x":-9,"y":-8,"v":0},{"x":-8,"y":-8,"v":0},{"x":-7,"y":-8,"v":0},{"x":-6,"y":-8,"v":0},{"x":-5,"y":-8,"v":0},{"x":-4,"y":-8,"v":0},{"x":-3,"y":-8,"v":0},{"x":-2,"y":-8,"v":0},{"x":-1,"y":-8,"v":0},{"x":0,"y":-8,"v":0},{"x":1,"y":-8,"v":0},{"x":2,"y":-8,"v":0},{"x":3,"y":-8,"v":0},{"x":4,"y":-8,"v":0},{"x":5,"y":-8,"v":0},{"x":6,"y":-8,"v":0},{"x":7,"y":-8,"v":0},{"x":8,"y":-8,"v":0},{"x":9,"y":-8,"v":0},{"x":10,"y":-8,"v":0},{"x":11,"y":-8,"v":0},
{"x":-13,"y":-9,"v":0},{"x":-12,"y":-9,"v":0},{"x":-11,"y":-9,"v":0},{"x":-10,"y":-9,"v":0},{"x":-9,"y":-9,"v":0},{"x":-8,"y":-9,"v":0},{"x":-7,"y":-9,"v":0},{"x":-6,"y":-9,"v":0},{"x":-5,"y":-9,"v":0},{"x":-4,"y":-9,"v":0},{"x":-3,"y":-9,"v":0},{"x":-2,"y":-9,"v":0},{"x":-1,"y":-9,"v":0},{"x":0,"y":-9,"v":0},{"x":1,"y":-9,"v":0},{"x":2,"y":-9,"v":0},{"x":3,"y":-9,"v":0},{"x":4,"y":-9,"v":0},{"x":5,"y":-9,"v":0},{"x":6,"y":-9,"v":0},{"x":7,"y":-9,"v":0},{"x":8,"y":-9,"v":0},{"x":9,"y":-9,"v":0},{"x":10,"y":-9,"v":0},{"x":11,"y":-9,"v":0},
{"x":-13,"y":-10,"v":0},{"x":-12,"y":-10,"v":0},{"x":-11,"y":-10,"v":0},{"x":-10,"y":-10,"v":0},{"x":-9,"y":-10,"v":0},{"x":-8,"y":-10,"v":0},{"x":-7,"y":-10,"v":0},{"x":-6,"y":-10,"v":0},{"x":-5,"y":-10,"v":0},{"x":-4,"y":-10,"v":0},{"x":-3,"y":-10,"v":0},{"x":-2,"y":-10,"v":0},{"x":-1,"y":-10,"v":0},{"x":0,"y":-10,"v":0},{"x":1,"y":-10,"v":0},{"x":2,"y":-10,"v":0},{"x":3,"y":-10,"v":0},{"x":4,"y":-10,"v":0},{"x":5,"y":-10,"v":0},{"x":6,"y":-10,"v":0},{"x":7,"y":-10,"v":0},{"x":8,"y":-10,"v":0},{"x":9,"y":-10,"v":0},{"x":10,"y":-10,"v":0},{"x":11,"y":-10,"v":0},
{"x":-13,"y":-11,"v":0},{"x":-12,"y":-11,"v":0},{"x":-11,"y":-11,"v":0},{"x":-10,"y":-11,"v":0},{"x":-9,"y":-11,"v":0},{"x":-8,"y":-11,"v":0},{"x":-7,"y":-11,"v":0},{"x":-6,"y":-11,"v":0},{"x":-5,"y":-11,"v":0},{"x":-4,"y":-11,"v":0},{"x":-3,"y":-11,"v":0},{"x":-2,"y":-11,"v":0},{"x":-1,"y":-11,"v":0},{"x":0,"y":-11,"v":0},{"x":1,"y":-11,"v":0},{"x":2,"y":-11,"v":0},{"x":3,"y":-11,"v":0},{"x":4,"y":-11,"v":0},{"x":5,"y":-11,"v":0},{"x":6,"y":-11,"v":0},{"x":7,"y":-11,"v":0},{"x":8,"y":-11,"v":0},{"x":9,"y":-11,"v":0},{"x":10,"y":-11,"v":0},{"x":11,"y":-11,"v":0},
{"x":-13,"y":-12,"v":0},{"x":-12,"y":-12,"v":0},{"x":-11,"y":-12,"v":0},{"x":-10,"y":-12,"v":0},{"x":-9,"y":-12,"v":0},{"x":-8,"y":-12,"v":0},{"x":-7,"y":-12,"v":0},{"x":-6,"y":-12,"v":0},{"x":-5,"y":-12,"v":0},{"x":-4,"y":-12,"v":0},{"x":-3,"y":-12,"v":0},{"x":-2,"y":-12,"v":0},{"x":-1,"y":-12,"v":0},{"x":0,"y":-12,"v":0},{"x":1,"y":-12,"v":0},{"x":2,"y":-12,"v":0},{"x":3,"y":-12,"v":0},{"x":4,"y":-12,"v":0},{"x":5,"y":-12,"v":0},{"x":6,"y":-12,"v":0},{"x":7,"y":-12,"v":0},{"x":8,"y":-12,"v":0},{"x":9,"y":-12,"v":0},{"x":10,"y":-12,"v":0},{"x":11,"y":-12,"v":0},
{"x":-13,"y":-13,"v":0},{"x":-12,"y":-13,"v":0},{"x":-11,"y":-13,"v":0},{"x":-10,"y":-13,"v":0},{"x":-9,"y":-13,"v":0},{"x":-8,"y":-13,"v":0},{"x":-7,"y":-13,"v":0},{"x":-6,"y":-13,"v":0},{"x":-5,"y":-13,"v":0},{"x":-4,"y":-13,"v":0},{"x":-3,"y":-13,"v":0},{"x":-2,"y":-13,"v":0},{"x":-1,"y":-13,"v":0},{"x":0,"y":-13,"v":0},{"x":1,"y":-13,"v":0},{"x":2,"y":-13,"v":0},{"x":3,"y":-13,"v":0},{"x":4,"y":-13,"v":0},{"x":5,"y":-13,"v":0},{"x":6,"y":-13,"v":0},{"x":7,"y":-13,"v":0},{"x":8,"y":-13,"v":0},{"x":9,"y":-13,"v":0},{"x":10,"y":-13,"v":0},{"x":11,"y":-13,"v":0}
],
"hd": [
{"x":-3,"y":11,"v":0},{"x":-2,"y":11,"v":0},{"x":-1,"y":11,"v":0},{"x":0,"y":11,"v":0},{"x":1,"y":11,"v":0},{"x":2,"y":11,"v":0},{"x":3,"y":11,"v":0},{"x":4,"y":11,"v":0},{"x":5,"y":11,"v":0},{"x":6,"y":11,"v":0},{"x":7,"y":11,"v":0},{"x":8,"y":11,"v":0},{"x":9,"y":11,"v":0},{"x":10,"y":11,"v":0},{"x":11,"y":11,"v":0},
{"x":-3,"y":10,"v":0},{"x":-2,"y":10,"v":0},{"x":-1,"y":10,"v":0},{"x":0,"y":10,"v":0},{"x":1,"y":10,"v":0},{"x":2,"y":10,"v":0},{"x":3,"y":10,"v":0},{"x":4,"y":10,"v":0},{"x":5,"y":10,"v":0},{"x":6,"y":10,"v":0},{"x":7,"y":10,"v":0},{"x":8,"y":10,"v":0},{"x":9,"y":10,"v":0},{"x":10,"y":10,"v":0},{"x":11,"y":10,"v":0},
{"x":-3,"y":9,"v":0},{"x":-2,"y":9,"v":0},{"x":-1,"y":9,"v":0},{"x":0,"y":9,"v":0},{"x":1,"y":9,"v":0},{"x":2,"y":9,"v":0},{"x":3,"y":9,"v":0},{"x":4,"y":9,"v":0},{"x":5,"y":9,"v":0},{"x":6,"y":9,"v":0},{"x":7,"y":9,"v":0},{"x":8,"y":9,"v":0},{"x":9,"y":9,"v":0},{"x":10,"y":9,"v":0},{"x":11,"y":9,"v":0},
{"x":-3,"y":8,"v":0},{"x":-2,"y":8,"v":0},{"x":-1,"y":8,"v":0},{"x":0,"y":8,"v":0},{"x":1,"y":8,"v":0},{"x":2,"y":8,"v":0},{"x":3,"y":8,"v":0},{"x":4,"y":8,"v":0},{"x":5,"y":8,"v":0},{"x":6,"y":8,"v":0},{"x":7,"y":8,"v":0},{"x":8,"y":8,"v":0},{"x":9,"y":8,"v":0},{"x":10,"y":8,"v":0},{"x":11,"y":8,"v":0},
{"x":-3,"y":7,"v":0},{"x":-2,"y":7,"v":0},{"x":-1,"y":7,"v":0},{"x":0,"y":7,"v":0},{"x":1,"y":7,"v":0},{"x":2,"y":7,"v":0},{"x":3,"y":7,"v":0},{"x":4,"y":7,"v":0},{"x":5,"y":7,"v":0},{"x":6,"y":7,"v":0},{"x":7,"y":7,"v":0},{"x":8,"y":7,"v":0},{"x":9,"y":7,"v":0},{"x":10,"y":7,"v":0},{"x":11,"y":7,"v":0},
{"x":-3,"y":6,"v":0},{"x":-2,"y":6,"v":0},{"x":-1,"y":6,"v":0},{"x":0,"y":6,"v":0},{"x":1,"y":6,"v":0},{"x":2,"y":6,"v":0},{"x":3,"y":6,"v":0},{"x":4,"y":6,"v":6},{"x":5,"y":6,"v":0},{"x":6,"y":6,"v":0},{"x":7,"y":6,"v":0},{"x":8,"y":6,"v":0},{"x":9,"y":6,"v":0},{"x":10,"y":6,"v":0},{"x":11,"y":6,"v":0},
{"x":-3,"y":5,"v":0},{"x":-2,"y":5,"v":0},{"x":-1,"y":5,"v":0},{"x":0,"y":5,"v":0},{"x":1,"y":5,"v":0},{"x":2,"y":5,"v":4},{"x":3,"y":5,"v":12},{"x":4,"y":5,"v":15},{"x":5,"y":5,"v":10},{"x":6,"y":5,"v":4},{"x":7,"y":5,"v":0},{"x":8,"y":5,"v":0},{"x":9,"y":5,"v":0},{"x":10,"y":5,"v":0},{"x":11,"y":5,"v":0},
{"x":-3,"y":4,"v":0},{"x":-2,"y":4,"v":0},{"x":-1,"y":4,"v":0},{"x":0,"y":4,"v":0},{"x":1,"y":4,"v":6},{"x":2,"y":4,"v":16},{"x":3,"y":4,"v":30},{"x":4,"y":4,"v":42},{"x":5,"y":4,"v":36},{"x":6,"y":4,"v":19},{"x":7,"y":4,"v":6},{"x":8,"y":4,"v":0},{"x":9,"y":4,"v":0},{"x":10,"y":4,"v":0},{"x":11,"y":4,"v":0},
{"x":-3,"y":3,"v":0},{"x":-2,"y":3,"v":0},{"x":-1,"y":3,"v":0},{"x":0,"y":3,"v":0},{"x":1,"y":3,"v":10},{"x":2,"y":3,"v":28},{"x":3,"y":3,"v":64},{"x":4,"y":3,"v":80},{"x":5,"y":3,"v":72},{"x":6,"y":3,"v":34},{"x":7,"y":3,"v":14},{"x":8,"y":3,"v":0},{"x":9,"y":3,"v":0},{"x":10,"y":3,"v":0},{"x":11,"y":3,"v":0},
{"x":-3,"y":2,"v":0},{"x":-2,"y":2,"v":0},{"x":-1,"y":2,"v":0},{"x":0,"y":2,"v":5},{"x":1,"y":2,"v":19},{"x":2,"y":2,"v":38},{"x":3,"y":2,"v":87},{"x":4,"y":2,"v":100},{"x":5,"y":2,"v":88},{"x":6,"y":2,"v":45},{"x":7,"y":2,"v":20},{"x":8,"y":2,"v":6},{"x":9,"y":2,"v":0},{"x":10,"y":2,"v":0},{"x":11,"y":2,"v":0},
{"x":-3,"y":1,"v":0},{"x":-2,"y":1,"v":0},{"x":-1,"y":1,"v":0},{"x":0,"y":1,"v":5},{"x":1,"y":1,"v":15},{"x":2,"y":1,"v":37},{"x":3,"y":1,"v":72},{"x":4,"y":1,"v":80},{"x":5,"y":1,"v":64},{"x":6,"y":1,"v":33},{"x":7,"y":1,"v":14},{"x":8,"y":1,"v":4},{"x":9,"y":1,"v":0},{"x":10,"y":1,"v":0},{"x":11,"y":1,"v":0},
{"x":-3,"y":0,"v":0},{"x":-2,"y":0,"v":0},{"x":-1,"y":0,"v":0},{"x":0,"y":0,"v":0},{"x":1,"y":0,"v":6},{"x":2,"y":0,"v":15},{"x":3,"y":0,"v":31},{"x":4,"y":0,"v":44},{"x":5,"y":0,"v":31},{"x":6,"y":0,"v":17},{"x":7,"y":0,"v":6},{"x":8,"y":0,"v":0},{"x":9,"y":0,"v":0},{"x":10,"y":0,"v":0},{"x":11,"y":0,"v":0},
{"x":-3,"y":-1,"v":0},{"x":-2,"y":-1,"v":0},{"x":-1,"y":-1,"v":0},{"x":0,"y":-1,"v":0},{"x":1,"y":-1,"v":0},{"x":2,"y":-1,"v":4},{"x":3,"y":-1,"v":18},{"x":4,"y":-1,"v":19},{"x":5,"y":-1,"v":16},{"x":6,"y":-1,"v":7},{"x":7,"y":-1,"v":0},{"x":8,"y":-1,"v":0},{"x":9,"y":-1,"v":0},{"x":10,"y":-1,"v":0},{"x":11,"y":-1,"v":0},
{"x":-3,"y":-2,"v":0},{"x":-2,"y":-2,"v":0},{"x":-1,"y":-2,"v":0},{"x":0,"y":-2,"v":0},{"x":1,"y":-2,"v":0},{"x":2,"y":-2,"v":0},{"x":3,"y":-2,"v":5},{"x":4,"y":-2,"v":7},{"x":5,"y":-2,"v":5},{"x":6,"y":-2,"v":0},{"x":7,"y":-2,"v":0},{"x":8,"y":-2,"v":0},{"x":9,"y":-2,"v":0},{"x":10,"y":-2,"v":0},{"x":11,"y":-2,"v":0},
{"x":-3,"y":-3,"v":0},{"x":-2,"y":-3,"v":0},{"x":-1,"y":-3,"v":0},{"x":0,"y":-3,"v":0},{"x":1,"y":-3,"v":0},{"x":2,"y":-3,"v":0},{"x":3,"y":-3,"v":0},{"x":4,"y":-3,"v":0},{"x":5,"y":-3,"v":0},{"x":6,"y":-3,"v":0},{"x":7,"y":-3,"v":0},{"x":8,"y":-3,"v":0},{"x":9,"y":-3,"v":0},{"x":10,"y":-3,"v":0},{"x":11,"y":-3,"v":0},
{"x":-3,"y":-4,"v":0},{"x":-2,"y":-4,"v":0},{"x":-1,"y":-4,"v":0},{"x":0,"y":-4,"v":0},{"x":1,"y":-4,"v":0},{"x":2,"y":-4,"v":0},{"x":3,"y":-4,"v":0},{"x":4,"y":-4,"v":0},{"x":5,"y":-4,"v":0},{"x":6,"y":-4,"v":0},{"x":7,"y":-4,"v":0},{"x":8,"y":-4,"v":0},{"x":9,"y":-4,"v":0},{"x":10,"y":-4,"v":0},{"x":11,"y":-4,"v":0},
{"x":-3,"y":-5,"v":0},{"x":-2,"y":-5,"v":0},{"x":-1,"y":-5,"v":0},{"x":0,"y":-5,"v":0},{"x":1,"y":-5,"v":0},{"x":2,"y":-5,"v":0},{"x":3,"y":-5,"v":0},{"x":4,"y":-5,"v":0},{"x":5,"y":-5,"v":0},{"x":6,"y":-5,"v":0},{"x":7,"y":-5,"v":0},{"x":8,"y":-5,"v":0},{"x":9,"y":-5,"v":0},{"x":10,"y":-5,"v":0},{"x":11,"y":-5,"v":0},
{"x":-3,"y":-6,"v":0},{"x":-2,"y":-6,"v":0},{"x":-1,"y":-6,"v":0},{"x":0,"y":-6,"v":0},{"x":1,"y":-6,"v":0},{"x":2,"y":-6,"v":0},{"x":3,"y":-6,"v":0},{"x":4,"y":-6,"v":0},{"x":5,"y":-6,"v":0},{"x":6,"y":-6,"v":0},{"x":7,"y":-6,"v":0},{"x":8,"y":-6,"v":0},{"x":9,"y":-6,"v":0},{"x":10,"y":-6,"v":0},{"x":11,"y":-6,"v":0},
{"x":-3,"y":-7,"v":0},{"x":-2,"y":-7,"v":0},{"x":-1,"y":-7,"v":0},{"x":0,"y":-7,"v":0},{"x":1,"y":-7,"v":0},{"x":2,"y":-7,"v":0},{"x":3,"y":-7,"v":0},{"x":4,"y":-7,"v":0},{"x":5,"y":-7,"v":0},{"x":6,"y":-7,"v":0},{"x":7,"y":-7,"v":0},{"x":8,"y":-7,"v":0},{"x":9,"y":-7,"v":0},{"x":10,"y":-7,"v":0},{"x":11,"y":-7,"v":0}
]
},
"columns": 2,
"spacing": {"column": 88, "row": 89},
"concat": [
{
 "title": {"text": "a:", "orient": "bottom", "anchor": "middle", "frame": "bounds", "font": "Liberation Sans", "fontSize": 25, "fontWeight": "bold", "color": "#000000", "offset": 0, "dx": -108, "dy": -25},
 "vconcat": [{
  "title": {"text": "Rectangle Filter", "orient": "bottom", "anchor": "middle", "frame": "bounds", "font": "DejaVu Serif", "fontSize": 23, "fontWeight": "normal", "color": "#000000", "offset": 60, "dx": 20},
  "columns": 2, "spacing": {"column": 12, "row": 16}, "bounds": "flush",
  "concat": [
   {"data": {"values": []}, "mark": "point", "width": 208, "height": 208, "view": {"stroke": null}},
   {"width": 208, "height": 208, "data": {"name": "L"},
    "transform": [{"filter": "datum.k == 't' && (datum.p == 'n' || datum.p == 'a')"}],
    "encoding": {
     "x": {"field": "pos", "type": "quantitative", "scale": {"domain": [-13, 11], "nice": false, "zero": false}, "axis": {"orient": "bottom", "values": [-13,-12,-11,-10,-9,-8,-7,-6,-5,-4,-3,-2,-1,0,1,2,3,4,5,6,7,8,9,10,11], "labels": false, "title": null, "grid": true, "gridColor": {"condition": {"test": "abs(datum.value % 2) == 1", "value": "#d2d2d2"}, "value": "#b8b8b8"}, "gridDash": {"condition": {"test": "abs(datum.value % 2) == 1", "value": []}, "value": [1, 3]}, "tickOpacity": {"condition": {"test": "abs(datum.value % 2) == 1", "value": 1}, "value": 0}}},
     "y": {"field": "val", "type": "quantitative", "scale": {"domain": [-0.1, 0.4], "nice": false, "zero": false}, "axis": {"orient": "left", "values": [-0.1,-0.075,-0.05,-0.025,0,0.025,0.05,0.075,0.1,0.125,0.15,0.175,0.2,0.225,0.25,0.275,0.3,0.325,0.35,0.375,0.4], "labelExpr": "abs(round(datum.value*40)) % 4 == 0 && datum.value > -0.05 ? format(datum.value, '.1f') : ''", "title": "ΣR(:, x)", "grid": true, "gridColor": {"condition": {"test": "abs(round(datum.value*40)) % 4 == 0", "value": "#d2d2d2"}, "value": "#b8b8b8"}, "gridDash": {"condition": {"test": "abs(round(datum.value*40)) % 4 == 0", "value": []}, "value": [1, 3]}, "tickOpacity": {"condition": {"test": "abs(round(datum.value*40)) % 4 == 0", "value": 1}, "value": 0}, "labelPadding": 16, "titlePadding": 10}},
     "color": {"field": "s", "type": "nominal", "scale": {"domain": ["noisy", "pre-processed"], "range": ["#979797", "#000000"]}, "legend": {"title": null, "symbolType": "M-2,0H2", "encode": {"symbols": {"update": {"strokeWidth": {"signal": "datum.value === 'noisy' ? 6.5 : 4"}, "strokeDash": {"signal": "datum.value === 'noisy' ? [1, 0] : [10, 4, 4, 4]"}}}}}},
     "strokeDash": {"field": "s", "type": "nominal", "scale": {"domain": ["noisy", "pre-processed"], "range": [[1, 0], [10, 4, 4, 4]]}, "legend": null},
     "strokeWidth": {"field": "s", "type": "nominal", "scale": {"domain": ["noisy", "pre-processed"], "range": [6.5, 4]}, "legend": null},
     "order": {"field": "pos", "type": "quantitative"}
    },
    "layer": [
     {"transform": [{"filter": "datum.s == 'noisy'"}], "mark": {"type": "line", "clip": true, "strokeJoin": "round"}},
     {"transform": [{"filter": "datum.s == 'pre-processed'"}], "mark": {"type": "line", "clip": true}}
    ]
   },
   {"width": 208, "height": 208, "data": {"name": "L"},
    "transform": [{"filter": "datum.k == 'l' && (datum.p == 'n' || datum.p == 'a')"}],
    "encoding": {
     "x": {"field": "val", "type": "quantitative", "scale": {"domain": [-0.1, 0.4], "nice": false, "zero": false, "reverse": true}, "axis": {"orient": "top", "values": [-0.1,-0.075,-0.05,-0.025,0,0.025,0.05,0.075,0.1,0.125,0.15,0.175,0.2,0.225,0.25,0.275,0.3,0.325,0.35,0.375,0.4], "labelExpr": "abs(round(datum.value*40)) % 4 == 0 && datum.value > -0.05 ? format(datum.value, '.1f') : ''", "title": "ΣR(y, :)", "grid": true, "gridColor": {"condition": {"test": "abs(round(datum.value*40)) % 4 == 0", "value": "#d2d2d2"}, "value": "#b8b8b8"}, "gridDash": {"condition": {"test": "abs(round(datum.value*40)) % 4 == 0", "value": []}, "value": [1, 3]}, "tickOpacity": {"condition": {"test": "abs(round(datum.value*40)) % 4 == 0", "value": 1}, "value": 0}, "labelPadding": 14, "titlePadding": 12}},
     "y": {"field": "pos", "type": "quantitative", "scale": {"domain": [-13, 11], "nice": false, "zero": false}, "axis": {"orient": "left", "values": [-13,-12,-11,-10,-9,-8,-7,-6,-5,-4,-3,-2,-1,0,1,2,3,4,5,6,7,8,9,10,11], "labels": false, "title": null, "grid": true, "gridColor": {"condition": {"test": "abs(datum.value % 2) == 1", "value": "#d2d2d2"}, "value": "#b8b8b8"}, "gridDash": {"condition": {"test": "abs(datum.value % 2) == 1", "value": []}, "value": [1, 3]}, "tickOpacity": {"condition": {"test": "abs(datum.value % 2) == 1", "value": 1}, "value": 0}}},
     "color": {"field": "s", "type": "nominal", "scale": {"domain": ["noisy", "pre-processed"], "range": ["#979797", "#000000"]}, "legend": null},
     "strokeDash": {"field": "s", "type": "nominal", "scale": {"domain": ["noisy", "pre-processed"], "range": [[1, 0], [10, 4, 4, 4]]}, "legend": null},
     "strokeWidth": {"field": "s", "type": "nominal", "scale": {"domain": ["noisy", "pre-processed"], "range": [6.5, 4]}, "legend": null},
     "order": {"field": "pos", "type": "quantitative"}
    },
    "layer": [
     {"transform": [{"filter": "datum.s == 'noisy'"}], "mark": {"type": "line", "clip": true, "strokeJoin": "round"}},
     {"transform": [{"filter": "datum.s == 'pre-processed'"}], "mark": {"type": "line", "clip": true}}
    ]
   },
   {"width": 208, "height": 208, "data": {"name": "ha"},
    "layer": [
     {"mark": {"type": "square", "size": 95, "filled": true, "opacity": 1, "strokeWidth": 0, "clip": true},
      "encoding": {
       "x": {"field": "x", "type": "quantitative", "scale": {"domain": [-13, 11], "nice": false, "zero": false}, "axis": {"orient": "bottom", "values": [-10, 0, 10], "grid": false, "labelExpr": "datum.value < 0 ? '-' + abs(datum.value) : '' + datum.value", "title": "x [px]", "titleFontStyle": "italic", "labelPadding": 16, "titlePadding": 6}},
       "y": {"field": "y", "type": "quantitative", "scale": {"domain": [-13, 11], "nice": false, "zero": false}, "axis": {"orient": "right", "values": [-10, 0, 10], "grid": false, "labelExpr": "datum.value < 0 ? '-' + abs(datum.value) : '' + datum.value", "title": "y [px]", "titleFontStyle": "italic", "titleAngle": 270, "titleBaseline": "top", "labelPadding": 16, "titlePadding": 6}},
       "color": {"field": "v", "type": "quantitative", "scale": {"domain": [0, 11, 36.5, 62, 87.3, 100], "range": ["#00008f", "#0000ff", "#00ffff", "#ffff00", "#ff0000", "#800000"], "interpolate": "rgb"}, "legend": null}
      }},
     {"mark": {"type": "point", "opacity": 0},
      "encoding": {
       "x": {"field": "x", "type": "quantitative", "scale": {"domain": [-13, 11], "nice": false, "zero": false}, "axis": {"orient": "top", "values": [-10, 0, 10], "grid": false, "labels": false, "title": null}},
       "y": {"field": "y", "type": "quantitative", "scale": {"domain": [-13, 11], "nice": false, "zero": false}, "axis": {"orient": "left", "values": [-10, 0, 10], "grid": false, "labels": false, "title": null}}
      }}
    ],
    "resolve": {"scale": {"x": "independent", "y": "independent"}, "axis": {"x": "independent", "y": "independent"}}
   }
  ]
 }]
},
{
 "title": {"text": "b:", "orient": "bottom", "anchor": "middle", "frame": "bounds", "font": "Liberation Sans", "fontSize": 25, "fontWeight": "bold", "color": "#000000", "offset": 0, "dx": -88, "dy": -25},
 "vconcat": [{
  "title": {"text": "Gaussian Fit", "orient": "bottom", "anchor": "middle", "frame": "bounds", "font": "DejaVu Serif", "fontSize": 23, "fontWeight": "normal", "color": "#000000", "offset": 60, "dx": 21},
  "columns": 2, "spacing": {"column": 12, "row": 16}, "bounds": "flush",
  "concat": [
   {"data": {"values": []}, "mark": "point", "width": 208, "height": 208, "view": {"stroke": null}},
   {"width": 208, "height": 208, "data": {"name": "L"},
    "transform": [{"filter": "datum.k == 't' && (datum.p == 'n' || datum.p == 'b')"}],
    "encoding": {
     "x": {"field": "pos", "type": "quantitative", "scale": {"domain": [-13, 11], "nice": false, "zero": false}, "axis": {"orient": "bottom", "values": [-13,-12,-11,-10,-9,-8,-7,-6,-5,-4,-3,-2,-1,0,1,2,3,4,5,6,7,8,9,10,11], "labels": false, "title": null, "grid": true, "gridColor": {"condition": {"test": "abs(datum.value % 2) == 1", "value": "#d2d2d2"}, "value": "#b8b8b8"}, "gridDash": {"condition": {"test": "abs(datum.value % 2) == 1", "value": []}, "value": [1, 3]}, "tickOpacity": {"condition": {"test": "abs(datum.value % 2) == 1", "value": 1}, "value": 0}}},
     "y": {"field": "val", "type": "quantitative", "scale": {"domain": [-0.1, 0.4], "nice": false, "zero": false}, "axis": {"orient": "left", "values": [-0.1,-0.075,-0.05,-0.025,0,0.025,0.05,0.075,0.1,0.125,0.15,0.175,0.2,0.225,0.25,0.275,0.3,0.325,0.35,0.375,0.4], "labelExpr": "abs(round(datum.value*40)) % 4 == 0 && datum.value > -0.05 ? format(datum.value, '.1f') : ''", "title": "ΣR(:, x)", "grid": true, "gridColor": {"condition": {"test": "abs(round(datum.value*40)) % 4 == 0", "value": "#d2d2d2"}, "value": "#b8b8b8"}, "gridDash": {"condition": {"test": "abs(round(datum.value*40)) % 4 == 0", "value": []}, "value": [1, 3]}, "tickOpacity": {"condition": {"test": "abs(round(datum.value*40)) % 4 == 0", "value": 1}, "value": 0}, "labelPadding": 16, "titlePadding": 10}},
     "color": {"field": "s", "type": "nominal", "scale": {"domain": ["noisy", "pre-processed"], "range": ["#979797", "#000000"]}, "legend": {"title": null, "symbolType": "M-2,0H2", "encode": {"symbols": {"update": {"strokeWidth": {"signal": "datum.value === 'noisy' ? 6.5 : 4"}, "strokeDash": {"signal": "datum.value === 'noisy' ? [1, 0] : [10, 4, 4, 4]"}}}}}},
     "strokeDash": {"field": "s", "type": "nominal", "scale": {"domain": ["noisy", "pre-processed"], "range": [[1, 0], [10, 4, 4, 4]]}, "legend": null},
     "strokeWidth": {"field": "s", "type": "nominal", "scale": {"domain": ["noisy", "pre-processed"], "range": [6.5, 4]}, "legend": null},
     "order": {"field": "pos", "type": "quantitative"}
    },
    "layer": [
     {"transform": [{"filter": "datum.s == 'noisy'"}], "mark": {"type": "line", "clip": true, "strokeJoin": "round"}},
     {"transform": [{"filter": "datum.s == 'pre-processed'"}], "mark": {"type": "line", "clip": true}}
    ]
   },
   {"width": 208, "height": 208, "data": {"name": "L"},
    "transform": [{"filter": "datum.k == 'l' && (datum.p == 'n' || datum.p == 'b')"}],
    "encoding": {
     "x": {"field": "val", "type": "quantitative", "scale": {"domain": [-0.1, 0.4], "nice": false, "zero": false, "reverse": true}, "axis": {"orient": "top", "values": [-0.1,-0.075,-0.05,-0.025,0,0.025,0.05,0.075,0.1,0.125,0.15,0.175,0.2,0.225,0.25,0.275,0.3,0.325,0.35,0.375,0.4], "labelExpr": "abs(round(datum.value*40)) % 4 == 0 && datum.value > -0.05 ? format(datum.value, '.1f') : ''", "title": "ΣR(y, :)", "grid": true, "gridColor": {"condition": {"test": "abs(round(datum.value*40)) % 4 == 0", "value": "#d2d2d2"}, "value": "#b8b8b8"}, "gridDash": {"condition": {"test": "abs(round(datum.value*40)) % 4 == 0", "value": []}, "value": [1, 3]}, "tickOpacity": {"condition": {"test": "abs(round(datum.value*40)) % 4 == 0", "value": 1}, "value": 0}, "labelPadding": 14, "titlePadding": 12}},
     "y": {"field": "pos", "type": "quantitative", "scale": {"domain": [-13, 11], "nice": false, "zero": false}, "axis": {"orient": "left", "values": [-13,-12,-11,-10,-9,-8,-7,-6,-5,-4,-3,-2,-1,0,1,2,3,4,5,6,7,8,9,10,11], "labels": false, "title": null, "grid": true, "gridColor": {"condition": {"test": "abs(datum.value % 2) == 1", "value": "#d2d2d2"}, "value": "#b8b8b8"}, "gridDash": {"condition": {"test": "abs(datum.value % 2) == 1", "value": []}, "value": [1, 3]}, "tickOpacity": {"condition": {"test": "abs(datum.value % 2) == 1", "value": 1}, "value": 0}}},
     "color": {"field": "s", "type": "nominal", "scale": {"domain": ["noisy", "pre-processed"], "range": ["#979797", "#000000"]}, "legend": null},
     "strokeDash": {"field": "s", "type": "nominal", "scale": {"domain": ["noisy", "pre-processed"], "range": [[1, 0], [10, 4, 4, 4]]}, "legend": null},
     "strokeWidth": {"field": "s", "type": "nominal", "scale": {"domain": ["noisy", "pre-processed"], "range": [6.5, 4]}, "legend": null},
     "order": {"field": "pos", "type": "quantitative"}
    },
    "layer": [
     {"transform": [{"filter": "datum.s == 'noisy'"}], "mark": {"type": "line", "clip": true, "strokeJoin": "round"}},
     {"transform": [{"filter": "datum.s == 'pre-processed'"}], "mark": {"type": "line", "clip": true}}
    ]
   },
   {"width": 208, "height": 208, "data": {"name": "hb"},
    "layer": [
     {"mark": {"type": "square", "size": 95, "filled": true, "opacity": 1, "strokeWidth": 0, "clip": true},
      "encoding": {
       "x": {"field": "x", "type": "quantitative", "scale": {"domain": [-13, 11], "nice": false, "zero": false}, "axis": {"orient": "bottom", "values": [-10, 0, 10], "grid": false, "labelExpr": "datum.value < 0 ? '-' + abs(datum.value) : '' + datum.value", "title": "x [px]", "titleFontStyle": "italic", "labelPadding": 16, "titlePadding": 6}},
       "y": {"field": "y", "type": "quantitative", "scale": {"domain": [-13, 11], "nice": false, "zero": false}, "axis": {"orient": "right", "values": [-10, 0, 10], "grid": false, "labelExpr": "datum.value < 0 ? '-' + abs(datum.value) : '' + datum.value", "title": "y [px]", "titleFontStyle": "italic", "titleAngle": 270, "titleBaseline": "top", "labelPadding": 16, "titlePadding": 6}},
       "color": {"field": "v", "type": "quantitative", "scale": {"domain": [0, 11, 36.5, 62, 87.3, 100], "range": ["#00008f", "#0000ff", "#00ffff", "#ffff00", "#ff0000", "#800000"], "interpolate": "rgb"}, "legend": null}
      }},
     {"mark": {"type": "point", "opacity": 0},
      "encoding": {
       "x": {"field": "x", "type": "quantitative", "scale": {"domain": [-13, 11], "nice": false, "zero": false}, "axis": {"orient": "top", "values": [-10, 0, 10], "grid": false, "labels": false, "title": null}},
       "y": {"field": "y", "type": "quantitative", "scale": {"domain": [-13, 11], "nice": false, "zero": false}, "axis": {"orient": "left", "values": [-10, 0, 10], "grid": false, "labels": false, "title": null}}
      }}
    ],
    "resolve": {"scale": {"x": "independent", "y": "independent"}, "axis": {"x": "independent", "y": "independent"}}
   }
  ]
 }]
},
{
 "title": {"text": "c:", "orient": "bottom", "anchor": "middle", "frame": "bounds", "font": "Liberation Sans", "fontSize": 25, "fontWeight": "bold", "color": "#000000", "offset": 0, "dx": -108, "dy": -25},
 "vconcat": [{
  "title": {"text": "Threshold Filter", "orient": "bottom", "anchor": "middle", "frame": "bounds", "font": "DejaVu Serif", "fontSize": 23, "fontWeight": "normal", "color": "#000000", "offset": 60, "dx": 20},
  "columns": 2, "spacing": {"column": 12, "row": 16}, "bounds": "flush",
  "concat": [
   {"data": {"values": []}, "mark": "point", "width": 208, "height": 208, "view": {"stroke": null}},
   {"width": 208, "height": 208, "data": {"name": "L"},
    "transform": [{"filter": "datum.k == 't' && (datum.p == 'n' || datum.p == 'c')"}],
    "encoding": {
     "x": {"field": "pos", "type": "quantitative", "scale": {"domain": [-13, 11], "nice": false, "zero": false}, "axis": {"orient": "bottom", "values": [-13,-12,-11,-10,-9,-8,-7,-6,-5,-4,-3,-2,-1,0,1,2,3,4,5,6,7,8,9,10,11], "labels": false, "title": null, "grid": true, "gridColor": {"condition": {"test": "abs(datum.value % 2) == 1", "value": "#d2d2d2"}, "value": "#b8b8b8"}, "gridDash": {"condition": {"test": "abs(datum.value % 2) == 1", "value": []}, "value": [1, 3]}, "tickOpacity": {"condition": {"test": "abs(datum.value % 2) == 1", "value": 1}, "value": 0}}},
     "y": {"field": "val", "type": "quantitative", "scale": {"domain": [-0.1, 0.4], "nice": false, "zero": false}, "axis": {"orient": "left", "values": [-0.1,-0.075,-0.05,-0.025,0,0.025,0.05,0.075,0.1,0.125,0.15,0.175,0.2,0.225,0.25,0.275,0.3,0.325,0.35,0.375,0.4], "labelExpr": "abs(round(datum.value*40)) % 4 == 0 && datum.value > -0.05 ? format(datum.value, '.1f') : ''", "title": "ΣR(:, x)", "grid": true, "gridColor": {"condition": {"test": "abs(round(datum.value*40)) % 4 == 0", "value": "#d2d2d2"}, "value": "#b8b8b8"}, "gridDash": {"condition": {"test": "abs(round(datum.value*40)) % 4 == 0", "value": []}, "value": [1, 3]}, "tickOpacity": {"condition": {"test": "abs(round(datum.value*40)) % 4 == 0", "value": 1}, "value": 0}, "labelPadding": 16, "titlePadding": 10}},
     "color": {"field": "s", "type": "nominal", "scale": {"domain": ["noisy", "pre-processed"], "range": ["#979797", "#000000"]}, "legend": {"title": null, "symbolType": "M-2,0H2", "encode": {"symbols": {"update": {"strokeWidth": {"signal": "datum.value === 'noisy' ? 6.5 : 4"}, "strokeDash": {"signal": "datum.value === 'noisy' ? [1, 0] : [10, 4, 4, 4]"}}}}}},
     "strokeDash": {"field": "s", "type": "nominal", "scale": {"domain": ["noisy", "pre-processed"], "range": [[1, 0], [10, 4, 4, 4]]}, "legend": null},
     "strokeWidth": {"field": "s", "type": "nominal", "scale": {"domain": ["noisy", "pre-processed"], "range": [6.5, 4]}, "legend": null},
     "order": {"field": "pos", "type": "quantitative"}
    },
    "layer": [
     {"transform": [{"filter": "datum.s == 'noisy'"}], "mark": {"type": "line", "clip": true, "strokeJoin": "round"}},
     {"transform": [{"filter": "datum.s == 'pre-processed'"}], "mark": {"type": "line", "clip": true}}
    ]
   },
   {"width": 208, "height": 208, "data": {"name": "L"},
    "transform": [{"filter": "datum.k == 'l' && (datum.p == 'n' || datum.p == 'c')"}],
    "encoding": {
     "x": {"field": "val", "type": "quantitative", "scale": {"domain": [-0.1, 0.4], "nice": false, "zero": false, "reverse": true}, "axis": {"orient": "top", "values": [-0.1,-0.075,-0.05,-0.025,0,0.025,0.05,0.075,0.1,0.125,0.15,0.175,0.2,0.225,0.25,0.275,0.3,0.325,0.35,0.375,0.4], "labelExpr": "abs(round(datum.value*40)) % 4 == 0 && datum.value > -0.05 ? format(datum.value, '.1f') : ''", "title": "ΣR(y, :)", "grid": true, "gridColor": {"condition": {"test": "abs(round(datum.value*40)) % 4 == 0", "value": "#d2d2d2"}, "value": "#b8b8b8"}, "gridDash": {"condition": {"test": "abs(round(datum.value*40)) % 4 == 0", "value": []}, "value": [1, 3]}, "tickOpacity": {"condition": {"test": "abs(round(datum.value*40)) % 4 == 0", "value": 1}, "value": 0}, "labelPadding": 14, "titlePadding": 12}},
     "y": {"field": "pos", "type": "quantitative", "scale": {"domain": [-13, 11], "nice": false, "zero": false}, "axis": {"orient": "left", "values": [-13,-12,-11,-10,-9,-8,-7,-6,-5,-4,-3,-2,-1,0,1,2,3,4,5,6,7,8,9,10,11], "labels": false, "title": null, "grid": true, "gridColor": {"condition": {"test": "abs(datum.value % 2) == 1", "value": "#d2d2d2"}, "value": "#b8b8b8"}, "gridDash": {"condition": {"test": "abs(datum.value % 2) == 1", "value": []}, "value": [1, 3]}, "tickOpacity": {"condition": {"test": "abs(datum.value % 2) == 1", "value": 1}, "value": 0}}},
     "color": {"field": "s", "type": "nominal", "scale": {"domain": ["noisy", "pre-processed"], "range": ["#979797", "#000000"]}, "legend": null},
     "strokeDash": {"field": "s", "type": "nominal", "scale": {"domain": ["noisy", "pre-processed"], "range": [[1, 0], [10, 4, 4, 4]]}, "legend": null},
     "strokeWidth": {"field": "s", "type": "nominal", "scale": {"domain": ["noisy", "pre-processed"], "range": [6.5, 4]}, "legend": null},
     "order": {"field": "pos", "type": "quantitative"}
    },
    "layer": [
     {"transform": [{"filter": "datum.s == 'noisy'"}], "mark": {"type": "line", "clip": true, "strokeJoin": "round"}},
     {"transform": [{"filter": "datum.s == 'pre-processed'"}], "mark": {"type": "line", "clip": true}}
    ]
   },
   {"width": 208, "height": 208, "data": {"name": "hc"},
    "layer": [
     {"mark": {"type": "square", "size": 95, "filled": true, "opacity": 1, "strokeWidth": 0, "clip": true},
      "encoding": {
       "x": {"field": "x", "type": "quantitative", "scale": {"domain": [-13, 11], "nice": false, "zero": false}, "axis": {"orient": "bottom", "values": [-10, 0, 10], "grid": false, "labelExpr": "datum.value < 0 ? '-' + abs(datum.value) : '' + datum.value", "title": "x [px]", "titleFontStyle": "italic", "labelPadding": 16, "titlePadding": 6}},
       "y": {"field": "y", "type": "quantitative", "scale": {"domain": [-13, 11], "nice": false, "zero": false}, "axis": {"orient": "right", "values": [-10, 0, 10], "grid": false, "labelExpr": "datum.value < 0 ? '-' + abs(datum.value) : '' + datum.value", "title": "y [px]", "titleFontStyle": "italic", "titleAngle": 270, "titleBaseline": "top", "labelPadding": 16, "titlePadding": 6}},
       "color": {"field": "v", "type": "quantitative", "scale": {"domain": [0, 11, 36.5, 62, 87.3, 100], "range": ["#00008f", "#0000ff", "#00ffff", "#ffff00", "#ff0000", "#800000"], "interpolate": "rgb"}, "legend": null}
      }},
     {"mark": {"type": "point", "opacity": 0},
      "encoding": {
       "x": {"field": "x", "type": "quantitative", "scale": {"domain": [-13, 11], "nice": false, "zero": false}, "axis": {"orient": "top", "values": [-10, 0, 10], "grid": false, "labels": false, "title": null}},
       "y": {"field": "y", "type": "quantitative", "scale": {"domain": [-13, 11], "nice": false, "zero": false}, "axis": {"orient": "left", "values": [-10, 0, 10], "grid": false, "labels": false, "title": null}}
      }}
    ],
    "resolve": {"scale": {"x": "independent", "y": "independent"}, "axis": {"x": "independent", "y": "independent"}}
   }
  ]
 }]
},
{
 "title": {"text": "d:", "orient": "bottom", "anchor": "middle", "frame": "bounds", "font": "Liberation Sans", "fontSize": 25, "fontWeight": "bold", "color": "#000000", "offset": 0, "dx": -168, "dy": -25},
 "vconcat": [{
  "title": {"text": "Standard Deviation Filter", "orient": "bottom", "anchor": "middle", "frame": "bounds", "font": "DejaVu Serif", "fontSize": 23, "fontWeight": "normal", "color": "#000000", "offset": 60, "dx": 21},
  "columns": 2, "spacing": {"column": 12, "row": 16}, "bounds": "flush",
  "concat": [
   {"data": {"values": []}, "mark": "point", "width": 208, "height": 208, "view": {"stroke": null}},
   {"width": 208, "height": 208, "data": {"name": "L"},
    "transform": [{"filter": "datum.k == 't' && (datum.p == 'n' || datum.p == 'd')"}],
    "encoding": {
     "x": {"field": "pos", "type": "quantitative", "scale": {"domain": [-13, 11], "nice": false, "zero": false}, "axis": {"orient": "bottom", "values": [-13,-12,-11,-10,-9,-8,-7,-6,-5,-4,-3,-2,-1,0,1,2,3,4,5,6,7,8,9,10,11], "labels": false, "title": null, "grid": true, "gridColor": {"condition": {"test": "abs(datum.value % 2) == 1", "value": "#d2d2d2"}, "value": "#b8b8b8"}, "gridDash": {"condition": {"test": "abs(datum.value % 2) == 1", "value": []}, "value": [1, 3]}, "tickOpacity": {"condition": {"test": "abs(datum.value % 2) == 1", "value": 1}, "value": 0}}},
     "y": {"field": "val", "type": "quantitative", "scale": {"domain": [-0.1, 0.4], "nice": false, "zero": false}, "axis": {"orient": "left", "values": [-0.1,-0.075,-0.05,-0.025,0,0.025,0.05,0.075,0.1,0.125,0.15,0.175,0.2,0.225,0.25,0.275,0.3,0.325,0.35,0.375,0.4], "labelExpr": "abs(round(datum.value*40)) % 4 == 0 && datum.value > -0.05 ? format(datum.value, '.1f') : ''", "title": "ΣR(:, x)", "grid": true, "gridColor": {"condition": {"test": "abs(round(datum.value*40)) % 4 == 0", "value": "#d2d2d2"}, "value": "#b8b8b8"}, "gridDash": {"condition": {"test": "abs(round(datum.value*40)) % 4 == 0", "value": []}, "value": [1, 3]}, "tickOpacity": {"condition": {"test": "abs(round(datum.value*40)) % 4 == 0", "value": 1}, "value": 0}, "labelPadding": 16, "titlePadding": 10}},
     "color": {"field": "s", "type": "nominal", "scale": {"domain": ["noisy", "pre-processed"], "range": ["#979797", "#000000"]}, "legend": {"title": null, "symbolType": "M-2,0H2", "encode": {"symbols": {"update": {"strokeWidth": {"signal": "datum.value === 'noisy' ? 6.5 : 4"}, "strokeDash": {"signal": "datum.value === 'noisy' ? [1, 0] : [10, 4, 4, 4]"}}}}}},
     "strokeDash": {"field": "s", "type": "nominal", "scale": {"domain": ["noisy", "pre-processed"], "range": [[1, 0], [10, 4, 4, 4]]}, "legend": null},
     "strokeWidth": {"field": "s", "type": "nominal", "scale": {"domain": ["noisy", "pre-processed"], "range": [6.5, 4]}, "legend": null},
     "order": {"field": "pos", "type": "quantitative"}
    },
    "layer": [
     {"transform": [{"filter": "datum.s == 'noisy'"}], "mark": {"type": "line", "clip": true, "strokeJoin": "round"}},
     {"transform": [{"filter": "datum.s == 'pre-processed'"}], "mark": {"type": "line", "clip": true}}
    ]
   },
   {"width": 208, "height": 208, "data": {"name": "L"},
    "transform": [{"filter": "datum.k == 'l' && (datum.p == 'n' || datum.p == 'd')"}],
    "encoding": {
     "x": {"field": "val", "type": "quantitative", "scale": {"domain": [-0.1, 0.4], "nice": false, "zero": false, "reverse": true}, "axis": {"orient": "top", "values": [-0.1,-0.075,-0.05,-0.025,0,0.025,0.05,0.075,0.1,0.125,0.15,0.175,0.2,0.225,0.25,0.275,0.3,0.325,0.35,0.375,0.4], "labelExpr": "abs(round(datum.value*40)) % 4 == 0 && datum.value > -0.05 ? format(datum.value, '.1f') : ''", "title": "ΣR(y, :)", "grid": true, "gridColor": {"condition": {"test": "abs(round(datum.value*40)) % 4 == 0", "value": "#d2d2d2"}, "value": "#b8b8b8"}, "gridDash": {"condition": {"test": "abs(round(datum.value*40)) % 4 == 0", "value": []}, "value": [1, 3]}, "tickOpacity": {"condition": {"test": "abs(round(datum.value*40)) % 4 == 0", "value": 1}, "value": 0}, "labelPadding": 14, "titlePadding": 12}},
     "y": {"field": "pos", "type": "quantitative", "scale": {"domain": [-13, 11], "nice": false, "zero": false}, "axis": {"orient": "left", "values": [-13,-12,-11,-10,-9,-8,-7,-6,-5,-4,-3,-2,-1,0,1,2,3,4,5,6,7,8,9,10,11], "labels": false, "title": null, "grid": true, "gridColor": {"condition": {"test": "abs(datum.value % 2) == 1", "value": "#d2d2d2"}, "value": "#b8b8b8"}, "gridDash": {"condition": {"test": "abs(datum.value % 2) == 1", "value": []}, "value": [1, 3]}, "tickOpacity": {"condition": {"test": "abs(datum.value % 2) == 1", "value": 1}, "value": 0}}},
     "color": {"field": "s", "type": "nominal", "scale": {"domain": ["noisy", "pre-processed"], "range": ["#979797", "#000000"]}, "legend": null},
     "strokeDash": {"field": "s", "type": "nominal", "scale": {"domain": ["noisy", "pre-processed"], "range": [[1, 0], [10, 4, 4, 4]]}, "legend": null},
     "strokeWidth": {"field": "s", "type": "nominal", "scale": {"domain": ["noisy", "pre-processed"], "range": [6.5, 4]}, "legend": null},
     "order": {"field": "pos", "type": "quantitative"}
    },
    "layer": [
     {"transform": [{"filter": "datum.s == 'noisy'"}], "mark": {"type": "line", "clip": true, "strokeJoin": "round"}},
     {"transform": [{"filter": "datum.s == 'pre-processed'"}], "mark": {"type": "line", "clip": true}}
    ]
   },
   {"width": 208, "height": 208, "data": {"name": "hd"},
    "layer": [
     {"mark": {"type": "square", "size": 95, "filled": true, "opacity": 1, "strokeWidth": 0, "clip": true},
      "encoding": {
       "x": {"field": "x", "type": "quantitative", "scale": {"domain": [-13, 11], "nice": false, "zero": false}, "axis": {"orient": "bottom", "values": [-10, 0, 10], "grid": false, "labelExpr": "datum.value < 0 ? '-' + abs(datum.value) : '' + datum.value", "title": "x [px]", "titleFontStyle": "italic", "labelPadding": 16, "titlePadding": 6}},
       "y": {"field": "y", "type": "quantitative", "scale": {"domain": [-13, 11], "nice": false, "zero": false}, "axis": {"orient": "right", "values": [-10, 0, 10], "grid": false, "labelExpr": "datum.value < 0 ? '-' + abs(datum.value) : '' + datum.value", "title": "y [px]", "titleFontStyle": "italic", "titleAngle": 270, "titleBaseline": "top", "labelPadding": 16, "titlePadding": 6}},
       "color": {"field": "v", "type": "quantitative", "scale": {"domain": [0, 11, 36.5, 62, 87.3, 100], "range": ["#00008f", "#0000ff", "#00ffff", "#ffff00", "#ff0000", "#800000"], "interpolate": "rgb"}, "legend": null}
      }},
     {"mark": {"type": "point", "opacity": 0},
      "encoding": {
       "x": {"field": "x", "type": "quantitative", "scale": {"domain": [-13, 11], "nice": false, "zero": false}, "axis": {"orient": "top", "values": [-10, 0, 10], "grid": false, "labels": false, "title": null}},
       "y": {"field": "y", "type": "quantitative", "scale": {"domain": [-13, 11], "nice": false, "zero": false}, "axis": {"orient": "left", "values": [-10, 0, 10], "grid": false, "labels": false, "title": null}}
      }}
    ],
    "resolve": {"scale": {"x": "independent", "y": "independent"}, "axis": {"x": "independent", "y": "independent"}}
   }
  ]
 }]
}
]
}
